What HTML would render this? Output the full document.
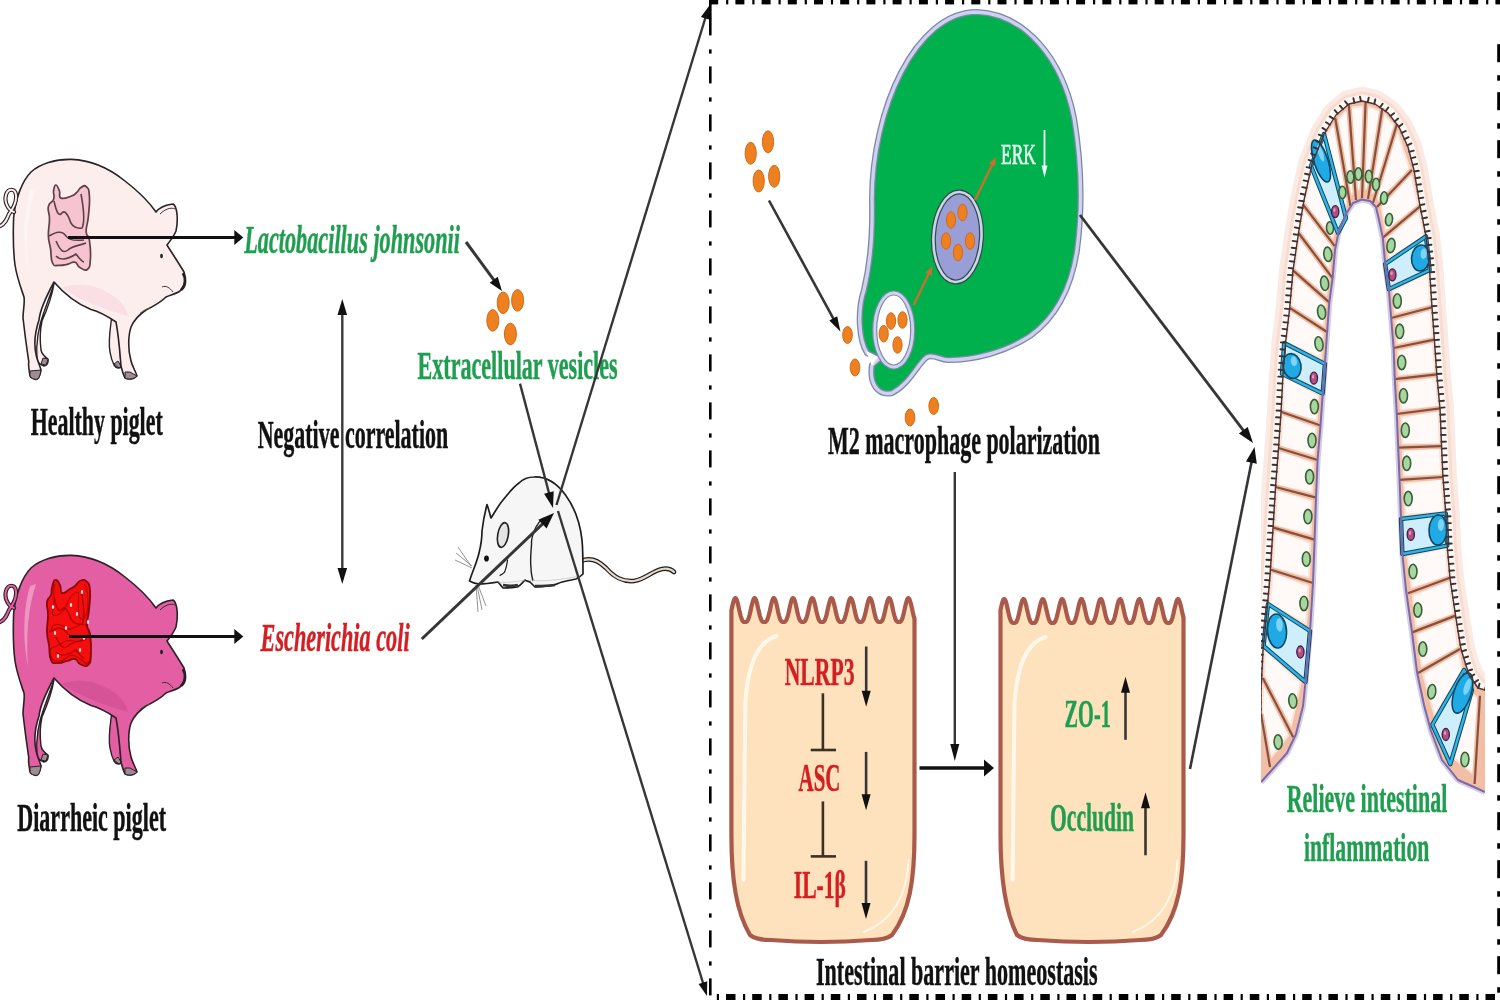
<!DOCTYPE html>
<html><head><meta charset="utf-8"><style>html,body{margin:0;padding:0;background:#fff;}svg{display:block;filter:blur(0.6px);}</style></head>
<body><svg width="1500" height="1000" viewBox="0 0 1500 1000">
<rect width="1500" height="1000" fill="#fff"/>
<rect x="709.2" y="0" width="9" height="4.4" fill="#000"/>
<rect x="726.1" y="0" width="2.2" height="4.4" fill="#000"/>
<rect x="735.4" y="0" width="9" height="4.4" fill="#000"/>
<rect x="752.3" y="0" width="2.2" height="4.4" fill="#000"/>
<rect x="761.6" y="0" width="9" height="4.4" fill="#000"/>
<rect x="778.5" y="0" width="2.2" height="4.4" fill="#000"/>
<rect x="787.8" y="0" width="9" height="4.4" fill="#000"/>
<rect x="804.7" y="0" width="2.2" height="4.4" fill="#000"/>
<rect x="814.0" y="0" width="9" height="4.4" fill="#000"/>
<rect x="830.9" y="0" width="2.2" height="4.4" fill="#000"/>
<rect x="840.2" y="0" width="9" height="4.4" fill="#000"/>
<rect x="857.1" y="0" width="2.2" height="4.4" fill="#000"/>
<rect x="866.4" y="0" width="9" height="4.4" fill="#000"/>
<rect x="883.3" y="0" width="2.2" height="4.4" fill="#000"/>
<rect x="892.6" y="0" width="9" height="4.4" fill="#000"/>
<rect x="909.5" y="0" width="2.2" height="4.4" fill="#000"/>
<rect x="918.9" y="0" width="9" height="4.4" fill="#000"/>
<rect x="935.8" y="0" width="2.2" height="4.4" fill="#000"/>
<rect x="945.1" y="0" width="9" height="4.4" fill="#000"/>
<rect x="962.0" y="0" width="2.2" height="4.4" fill="#000"/>
<rect x="971.3" y="0" width="9" height="4.4" fill="#000"/>
<rect x="988.2" y="0" width="2.2" height="4.4" fill="#000"/>
<rect x="997.5" y="0" width="9" height="4.4" fill="#000"/>
<rect x="1014.4" y="0" width="2.2" height="4.4" fill="#000"/>
<rect x="1023.7" y="0" width="9" height="4.4" fill="#000"/>
<rect x="1040.6" y="0" width="2.2" height="4.4" fill="#000"/>
<rect x="1049.9" y="0" width="9" height="4.4" fill="#000"/>
<rect x="1066.8" y="0" width="2.2" height="4.4" fill="#000"/>
<rect x="1076.1" y="0" width="9" height="4.4" fill="#000"/>
<rect x="1093.0" y="0" width="2.2" height="4.4" fill="#000"/>
<rect x="1102.3" y="0" width="9" height="4.4" fill="#000"/>
<rect x="1119.2" y="0" width="2.2" height="4.4" fill="#000"/>
<rect x="1128.5" y="0" width="9" height="4.4" fill="#000"/>
<rect x="1145.4" y="0" width="2.2" height="4.4" fill="#000"/>
<rect x="1154.7" y="0" width="9" height="4.4" fill="#000"/>
<rect x="1171.6" y="0" width="2.2" height="4.4" fill="#000"/>
<rect x="1180.9" y="0" width="9" height="4.4" fill="#000"/>
<rect x="1197.8" y="0" width="2.2" height="4.4" fill="#000"/>
<rect x="1207.1" y="0" width="9" height="4.4" fill="#000"/>
<rect x="1224.0" y="0" width="2.2" height="4.4" fill="#000"/>
<rect x="1233.3" y="0" width="9" height="4.4" fill="#000"/>
<rect x="1250.2" y="0" width="2.2" height="4.4" fill="#000"/>
<rect x="1259.5" y="0" width="9" height="4.4" fill="#000"/>
<rect x="1276.4" y="0" width="2.2" height="4.4" fill="#000"/>
<rect x="1285.8" y="0" width="9" height="4.4" fill="#000"/>
<rect x="1302.7" y="0" width="2.2" height="4.4" fill="#000"/>
<rect x="1312.0" y="0" width="9" height="4.4" fill="#000"/>
<rect x="1328.9" y="0" width="2.2" height="4.4" fill="#000"/>
<rect x="1338.2" y="0" width="9" height="4.4" fill="#000"/>
<rect x="1355.1" y="0" width="2.2" height="4.4" fill="#000"/>
<rect x="1364.4" y="0" width="9" height="4.4" fill="#000"/>
<rect x="1381.3" y="0" width="2.2" height="4.4" fill="#000"/>
<rect x="1390.6" y="0" width="9" height="4.4" fill="#000"/>
<rect x="1407.5" y="0" width="2.2" height="4.4" fill="#000"/>
<rect x="1416.8" y="0" width="9" height="4.4" fill="#000"/>
<rect x="1433.7" y="0" width="2.2" height="4.4" fill="#000"/>
<rect x="1443.0" y="0" width="9" height="4.4" fill="#000"/>
<rect x="1459.9" y="0" width="2.2" height="4.4" fill="#000"/>
<rect x="1469.2" y="0" width="9" height="4.4" fill="#000"/>
<rect x="1486.1" y="0" width="2.2" height="4.4" fill="#000"/>
<rect x="1495.4" y="0" width="9" height="4.4" fill="#000"/>
<rect x="1512.3" y="0" width="2.2" height="4.4" fill="#000"/>
<rect x="726.0" y="994" width="9.5" height="6" fill="#000"/>
<rect x="716.8" y="994" width="2.2" height="6" fill="#000"/>
<rect x="752.2" y="994" width="9.5" height="6" fill="#000"/>
<rect x="743.0" y="994" width="2.2" height="6" fill="#000"/>
<rect x="778.4" y="994" width="9.5" height="6" fill="#000"/>
<rect x="769.2" y="994" width="2.2" height="6" fill="#000"/>
<rect x="804.6" y="994" width="9.5" height="6" fill="#000"/>
<rect x="795.4" y="994" width="2.2" height="6" fill="#000"/>
<rect x="830.8" y="994" width="9.5" height="6" fill="#000"/>
<rect x="821.6" y="994" width="2.2" height="6" fill="#000"/>
<rect x="857.0" y="994" width="9.5" height="6" fill="#000"/>
<rect x="847.8" y="994" width="2.2" height="6" fill="#000"/>
<rect x="883.1" y="994" width="9.5" height="6" fill="#000"/>
<rect x="873.9" y="994" width="2.2" height="6" fill="#000"/>
<rect x="909.3" y="994" width="9.5" height="6" fill="#000"/>
<rect x="900.1" y="994" width="2.2" height="6" fill="#000"/>
<rect x="935.5" y="994" width="9.5" height="6" fill="#000"/>
<rect x="926.3" y="994" width="2.2" height="6" fill="#000"/>
<rect x="961.7" y="994" width="9.5" height="6" fill="#000"/>
<rect x="952.5" y="994" width="2.2" height="6" fill="#000"/>
<rect x="987.9" y="994" width="9.5" height="6" fill="#000"/>
<rect x="978.7" y="994" width="2.2" height="6" fill="#000"/>
<rect x="1014.1" y="994" width="9.5" height="6" fill="#000"/>
<rect x="1004.9" y="994" width="2.2" height="6" fill="#000"/>
<rect x="1040.3" y="994" width="9.5" height="6" fill="#000"/>
<rect x="1031.1" y="994" width="2.2" height="6" fill="#000"/>
<rect x="1066.5" y="994" width="9.5" height="6" fill="#000"/>
<rect x="1057.3" y="994" width="2.2" height="6" fill="#000"/>
<rect x="1092.7" y="994" width="9.5" height="6" fill="#000"/>
<rect x="1083.5" y="994" width="2.2" height="6" fill="#000"/>
<rect x="1118.8" y="994" width="9.5" height="6" fill="#000"/>
<rect x="1109.6" y="994" width="2.2" height="6" fill="#000"/>
<rect x="1145.0" y="994" width="9.5" height="6" fill="#000"/>
<rect x="1135.8" y="994" width="2.2" height="6" fill="#000"/>
<rect x="1171.2" y="994" width="9.5" height="6" fill="#000"/>
<rect x="1162.0" y="994" width="2.2" height="6" fill="#000"/>
<rect x="1197.4" y="994" width="9.5" height="6" fill="#000"/>
<rect x="1188.2" y="994" width="2.2" height="6" fill="#000"/>
<rect x="1223.6" y="994" width="9.5" height="6" fill="#000"/>
<rect x="1214.4" y="994" width="2.2" height="6" fill="#000"/>
<rect x="1249.8" y="994" width="9.5" height="6" fill="#000"/>
<rect x="1240.6" y="994" width="2.2" height="6" fill="#000"/>
<rect x="1276.0" y="994" width="9.5" height="6" fill="#000"/>
<rect x="1266.8" y="994" width="2.2" height="6" fill="#000"/>
<rect x="1302.2" y="994" width="9.5" height="6" fill="#000"/>
<rect x="1293.0" y="994" width="2.2" height="6" fill="#000"/>
<rect x="1328.4" y="994" width="9.5" height="6" fill="#000"/>
<rect x="1319.2" y="994" width="2.2" height="6" fill="#000"/>
<rect x="1354.6" y="994" width="9.5" height="6" fill="#000"/>
<rect x="1345.4" y="994" width="2.2" height="6" fill="#000"/>
<rect x="1380.8" y="994" width="9.5" height="6" fill="#000"/>
<rect x="1371.5" y="994" width="2.2" height="6" fill="#000"/>
<rect x="1406.9" y="994" width="9.5" height="6" fill="#000"/>
<rect x="1397.7" y="994" width="2.2" height="6" fill="#000"/>
<rect x="1433.1" y="994" width="9.5" height="6" fill="#000"/>
<rect x="1423.9" y="994" width="2.2" height="6" fill="#000"/>
<rect x="1459.3" y="994" width="9.5" height="6" fill="#000"/>
<rect x="1450.1" y="994" width="2.2" height="6" fill="#000"/>
<rect x="1485.5" y="994" width="9.5" height="6" fill="#000"/>
<rect x="1476.3" y="994" width="2.2" height="6" fill="#000"/>
<rect x="709" y="18.4" width="2.6" height="17" fill="#000"/>
<rect x="709" y="49.4" width="2.6" height="4.2" fill="#000"/>
<rect x="709" y="66.4" width="2.6" height="17" fill="#000"/>
<rect x="709" y="97.4" width="2.6" height="4.2" fill="#000"/>
<rect x="709" y="114.4" width="2.6" height="17" fill="#000"/>
<rect x="709" y="145.4" width="2.6" height="4.2" fill="#000"/>
<rect x="709" y="162.4" width="2.6" height="17" fill="#000"/>
<rect x="709" y="193.4" width="2.6" height="4.2" fill="#000"/>
<rect x="709" y="210.4" width="2.6" height="17" fill="#000"/>
<rect x="709" y="241.4" width="2.6" height="4.2" fill="#000"/>
<rect x="709" y="258.4" width="2.6" height="17" fill="#000"/>
<rect x="709" y="289.4" width="2.6" height="4.2" fill="#000"/>
<rect x="709" y="306.4" width="2.6" height="17" fill="#000"/>
<rect x="709" y="337.4" width="2.6" height="4.2" fill="#000"/>
<rect x="709" y="354.4" width="2.6" height="17" fill="#000"/>
<rect x="709" y="385.4" width="2.6" height="4.2" fill="#000"/>
<rect x="709" y="402.4" width="2.6" height="17" fill="#000"/>
<rect x="709" y="433.4" width="2.6" height="4.2" fill="#000"/>
<rect x="709" y="450.4" width="2.6" height="17" fill="#000"/>
<rect x="709" y="481.4" width="2.6" height="4.2" fill="#000"/>
<rect x="709" y="498.4" width="2.6" height="17" fill="#000"/>
<rect x="709" y="529.4" width="2.6" height="4.2" fill="#000"/>
<rect x="709" y="546.4" width="2.6" height="17" fill="#000"/>
<rect x="709" y="577.4" width="2.6" height="4.2" fill="#000"/>
<rect x="709" y="594.4" width="2.6" height="17" fill="#000"/>
<rect x="709" y="625.4" width="2.6" height="4.2" fill="#000"/>
<rect x="709" y="642.4" width="2.6" height="17" fill="#000"/>
<rect x="709" y="673.4" width="2.6" height="4.2" fill="#000"/>
<rect x="709" y="690.4" width="2.6" height="17" fill="#000"/>
<rect x="709" y="721.4" width="2.6" height="4.2" fill="#000"/>
<rect x="709" y="738.4" width="2.6" height="17" fill="#000"/>
<rect x="709" y="769.4" width="2.6" height="4.2" fill="#000"/>
<rect x="709" y="786.4" width="2.6" height="17" fill="#000"/>
<rect x="709" y="817.4" width="2.6" height="4.2" fill="#000"/>
<rect x="709" y="834.4" width="2.6" height="17" fill="#000"/>
<rect x="709" y="865.4" width="2.6" height="4.2" fill="#000"/>
<rect x="709" y="882.4" width="2.6" height="17" fill="#000"/>
<rect x="709" y="913.4" width="2.6" height="4.2" fill="#000"/>
<rect x="709" y="930.4" width="2.6" height="17" fill="#000"/>
<rect x="709" y="961.4" width="2.6" height="4.2" fill="#000"/>
<rect x="709" y="978.4" width="2.6" height="17" fill="#000"/>
<rect x="709" y="1009.4" width="2.6" height="4.2" fill="#000"/>
<rect x="1497.2" y="44.2" width="2.8" height="18" fill="#000"/>
<rect x="1497.2" y="75.2" width="2.8" height="5.5" fill="#000"/>
<rect x="1497.2" y="92.2" width="2.8" height="18" fill="#000"/>
<rect x="1497.2" y="123.2" width="2.8" height="5.5" fill="#000"/>
<rect x="1497.2" y="140.2" width="2.8" height="18" fill="#000"/>
<rect x="1497.2" y="171.2" width="2.8" height="5.5" fill="#000"/>
<rect x="1497.2" y="188.2" width="2.8" height="18" fill="#000"/>
<rect x="1497.2" y="219.2" width="2.8" height="5.5" fill="#000"/>
<rect x="1497.2" y="236.2" width="2.8" height="18" fill="#000"/>
<rect x="1497.2" y="267.2" width="2.8" height="5.5" fill="#000"/>
<rect x="1497.2" y="284.2" width="2.8" height="18" fill="#000"/>
<rect x="1497.2" y="315.2" width="2.8" height="5.5" fill="#000"/>
<rect x="1497.2" y="332.2" width="2.8" height="18" fill="#000"/>
<rect x="1497.2" y="363.2" width="2.8" height="5.5" fill="#000"/>
<rect x="1497.2" y="380.2" width="2.8" height="18" fill="#000"/>
<rect x="1497.2" y="411.2" width="2.8" height="5.5" fill="#000"/>
<rect x="1497.2" y="428.2" width="2.8" height="18" fill="#000"/>
<rect x="1497.2" y="459.2" width="2.8" height="5.5" fill="#000"/>
<rect x="1497.2" y="476.2" width="2.8" height="18" fill="#000"/>
<rect x="1497.2" y="507.2" width="2.8" height="5.5" fill="#000"/>
<rect x="1497.2" y="524.2" width="2.8" height="18" fill="#000"/>
<rect x="1497.2" y="555.2" width="2.8" height="5.5" fill="#000"/>
<rect x="1497.2" y="572.2" width="2.8" height="18" fill="#000"/>
<rect x="1497.2" y="603.2" width="2.8" height="5.5" fill="#000"/>
<rect x="1497.2" y="620.2" width="2.8" height="18" fill="#000"/>
<rect x="1497.2" y="651.2" width="2.8" height="5.5" fill="#000"/>
<rect x="1497.2" y="668.2" width="2.8" height="18" fill="#000"/>
<rect x="1497.2" y="699.2" width="2.8" height="5.5" fill="#000"/>
<rect x="1497.2" y="716.2" width="2.8" height="18" fill="#000"/>
<rect x="1497.2" y="747.2" width="2.8" height="5.5" fill="#000"/>
<rect x="1497.2" y="764.2" width="2.8" height="18" fill="#000"/>
<rect x="1497.2" y="795.2" width="2.8" height="5.5" fill="#000"/>
<rect x="1497.2" y="812.2" width="2.8" height="18" fill="#000"/>
<rect x="1497.2" y="843.2" width="2.8" height="5.5" fill="#000"/>
<rect x="1497.2" y="860.2" width="2.8" height="18" fill="#000"/>
<rect x="1497.2" y="891.2" width="2.8" height="5.5" fill="#000"/>
<rect x="1497.2" y="908.2" width="2.8" height="18" fill="#000"/>
<rect x="1497.2" y="939.2" width="2.8" height="5.5" fill="#000"/>
<rect x="1497.2" y="956.2" width="2.8" height="18" fill="#000"/>
<rect x="1497.2" y="987.2" width="2.8" height="5.5" fill="#000"/>
<rect x="709" y="0" width="2.6" height="19" fill="#000"/>
<path d="M731.4,610.5 L732.3,606.3 L733.2,602.5 L734.1,599.6 L735.1,598.1 L736.0,598.3 L736.9,600.2 L737.8,603.4 L738.7,607.4 L739.6,611.6 L740.6,615.5 L741.5,618.5 L742.4,620.6 L743.3,621.6 L744.2,622.0 L745.1,622.0 L746.0,621.9 L747.0,621.4 L747.9,620.1 L748.8,617.8 L749.7,614.5 L750.6,610.5 L751.5,606.3 L752.5,602.4 L753.4,599.6 L754.3,598.1 L755.2,598.3 L756.1,600.2 L757.0,603.4 L757.9,607.4 L758.9,611.6 L759.8,615.5 L760.7,618.5 L761.6,620.6 L762.5,621.6 L763.4,622.0 L764.4,622.0 L765.3,621.9 L766.2,621.4 L767.1,620.1 L768.0,617.8 L768.9,614.5 L769.9,610.5 L770.8,606.3 L771.7,602.4 L772.6,599.6 L773.5,598.1 L774.4,598.3 L775.3,600.2 L776.3,603.4 L777.2,607.4 L778.1,611.7 L779.0,615.5 L779.9,618.5 L780.8,620.6 L781.8,621.6 L782.7,622.0 L783.6,622.0 L784.5,621.9 L785.4,621.4 L786.3,620.1 L787.2,617.8 L788.2,614.5 L789.1,610.5 L790.0,606.3 L790.9,602.4 L791.8,599.5 L792.7,598.1 L793.7,598.4 L794.6,600.2 L795.5,603.4 L796.4,607.5 L797.3,611.7 L798.2,615.5 L799.1,618.5 L800.1,620.6 L801.0,621.6 L801.9,622.0 L802.8,622.0 L803.7,621.9 L804.6,621.4 L805.6,620.1 L806.5,617.8 L807.4,614.5 L808.3,610.5 L809.2,606.3 L810.1,602.4 L811.0,599.5 L812.0,598.1 L812.9,598.4 L813.8,600.2 L814.7,603.4 L815.6,607.5 L816.5,611.7 L817.5,615.5 L818.4,618.6 L819.3,620.6 L820.2,621.6 L821.1,622.0 L822.0,622.0 L823.0,621.9 L823.9,621.4 L824.8,620.1 L825.7,617.8 L826.6,614.5 L827.5,610.5 L828.4,606.2 L829.4,602.4 L830.3,599.5 L831.2,598.1 L832.1,598.4 L833.0,600.2 L833.9,603.5 L834.9,607.5 L835.8,611.7 L836.7,615.5 L837.6,618.6 L838.5,620.6 L839.4,621.6 L840.3,622.0 L841.3,622.0 L842.2,621.9 L843.1,621.4 L844.0,620.1 L844.9,617.8 L845.8,614.5 L846.8,610.4 L847.7,606.2 L848.6,602.4 L849.5,599.5 L850.4,598.1 L851.3,598.4 L852.2,600.3 L853.2,603.5 L854.1,607.5 L855.0,611.7 L855.9,615.6 L856.8,618.6 L857.7,620.6 L858.7,621.6 L859.6,622.0 L860.5,622.0 L861.4,621.9 L862.3,621.4 L863.2,620.1 L864.1,617.7 L865.1,614.4 L866.0,610.4 L866.9,606.2 L867.8,602.4 L868.7,599.5 L869.6,598.1 L870.6,598.4 L871.5,600.3 L872.4,603.5 L873.3,607.5 L874.2,611.7 L875.1,615.6 L876.0,618.6 L877.0,620.6 L877.9,621.6 L878.8,622.0 L879.7,622.0 L880.6,621.9 L881.5,621.4 L882.5,620.1 L883.4,617.7 L884.3,614.4 L885.2,610.4 L886.1,606.2 L887.0,602.4 L888.0,599.5 L888.9,598.1 L889.8,598.4 L890.7,600.3 L891.6,603.5 L892.5,607.5 L893.4,611.7 L894.4,615.6 L895.3,618.6 L896.2,620.6 L897.1,621.6 L898.0,622.0 L898.9,622.0 L899.9,621.9 L900.8,621.4 L901.7,620.1 L902.6,617.7 L903.5,614.4 L904.4,610.4 L905.3,606.2 L906.3,602.3 L907.2,599.5 L908.1,598.1 L909.0,598.4 L909.9,600.3 L910.8,603.5 L911.8,607.5 L912.7,611.8 L913.6,615.6 L914.5,618.6 L914.5,835.0 C914.5,880.0 909.5,912.0 892.0,935.0 C887.0,939.0 881.0,940.0 871.0,940.0 Q821.0,944.0 771.0,940.0 C761.0,940.0 755.0,939.0 750.0,935.0 C736.4,912.0 731.4,880.0 731.4,835.0 Z" fill="#fee2bd" stroke="#a95a4b" stroke-width="4.2" stroke-linejoin="round"/>
<path d="M776.4,636.0 Q749.4,644.0 745.4,702.0 L743.4,880.0" fill="none" stroke="#fffaf0" stroke-width="4" stroke-linecap="round" opacity="0.9"/>
<path d="M908.5,860.0 Q906.5,915.0 864.0,932.0" fill="none" stroke="#fffaf0" stroke-width="2" stroke-linecap="round" opacity="0.8"/>
<path d="M1000.5,610.1 L1001.4,605.9 L1002.3,602.4 L1003.2,599.9 L1004.2,599.0 L1005.1,599.8 L1006.0,602.1 L1006.9,605.6 L1007.8,609.7 L1008.7,613.8 L1009.6,617.5 L1010.6,620.2 L1011.5,621.9 L1012.4,622.8 L1013.3,623.0 L1014.2,623.0 L1015.1,622.8 L1016.1,622.2 L1017.0,620.6 L1017.9,618.1 L1018.8,614.6 L1019.7,610.5 L1020.6,606.3 L1021.5,602.7 L1022.5,600.1 L1023.4,599.0 L1024.3,599.6 L1025.2,601.8 L1026.1,605.2 L1027.0,609.3 L1028.0,613.4 L1028.9,617.1 L1029.8,620.0 L1030.7,621.8 L1031.6,622.7 L1032.5,623.0 L1033.4,623.0 L1034.4,622.9 L1035.3,622.3 L1036.2,620.8 L1037.1,618.4 L1038.0,615.0 L1038.9,611.0 L1039.8,606.8 L1040.8,603.0 L1041.7,600.3 L1042.6,599.1 L1043.5,599.5 L1044.4,601.5 L1045.3,604.8 L1046.2,608.8 L1047.2,613.0 L1048.1,616.8 L1049.0,619.7 L1049.9,621.7 L1050.8,622.7 L1051.7,623.0 L1052.7,623.0 L1053.6,622.9 L1054.5,622.4 L1055.4,621.0 L1056.3,618.7 L1057.2,615.4 L1058.1,611.4 L1059.1,607.2 L1060.0,603.4 L1060.9,600.5 L1061.8,599.1 L1062.7,599.3 L1063.6,601.2 L1064.5,604.4 L1065.5,608.4 L1066.4,612.6 L1067.3,616.4 L1068.2,619.5 L1069.1,621.5 L1070.0,622.6 L1071.0,623.0 L1071.9,623.0 L1072.8,622.9 L1073.7,622.5 L1074.6,621.2 L1075.5,619.0 L1076.4,615.8 L1077.4,611.8 L1078.3,607.6 L1079.2,603.7 L1080.1,600.8 L1081.0,599.2 L1081.9,599.2 L1082.8,600.9 L1083.8,604.0 L1084.7,607.9 L1085.6,612.1 L1086.5,616.0 L1087.4,619.2 L1088.3,621.3 L1089.3,622.5 L1090.2,622.9 L1091.1,623.0 L1092.0,622.9 L1092.9,622.5 L1093.8,621.4 L1094.7,619.3 L1095.7,616.2 L1096.6,612.3 L1097.5,608.1 L1098.4,604.1 L1099.3,601.0 L1100.2,599.3 L1101.2,599.2 L1102.1,600.7 L1103.0,603.6 L1103.9,607.5 L1104.8,611.7 L1105.7,615.7 L1106.6,618.9 L1107.6,621.2 L1108.5,622.4 L1109.4,622.9 L1110.3,623.0 L1111.2,623.0 L1112.1,622.6 L1113.0,621.6 L1114.0,619.5 L1114.9,616.5 L1115.8,612.7 L1116.7,608.5 L1117.6,604.5 L1118.5,601.3 L1119.5,599.4 L1120.4,599.1 L1121.3,600.5 L1122.2,603.3 L1123.1,607.1 L1124.0,611.3 L1124.9,615.3 L1125.9,618.6 L1126.8,621.0 L1127.7,622.3 L1128.6,622.9 L1129.5,623.0 L1130.4,623.0 L1131.3,622.7 L1132.3,621.7 L1133.2,619.8 L1134.1,616.9 L1135.0,613.1 L1135.9,609.0 L1136.8,604.9 L1137.8,601.6 L1138.7,599.5 L1139.6,599.0 L1140.5,600.2 L1141.4,602.9 L1142.3,606.6 L1143.2,610.8 L1144.2,614.9 L1145.1,618.3 L1146.0,620.8 L1146.9,622.2 L1147.8,622.9 L1148.7,623.0 L1149.6,623.0 L1150.6,622.7 L1151.5,621.9 L1152.4,620.1 L1153.3,617.2 L1154.2,613.6 L1155.1,609.4 L1156.0,605.3 L1157.0,601.9 L1157.9,599.7 L1158.8,599.0 L1159.7,600.0 L1160.6,602.6 L1161.5,606.2 L1162.5,610.4 L1163.4,614.5 L1164.3,618.0 L1165.2,620.6 L1166.1,622.1 L1167.0,622.8 L1167.9,623.0 L1168.9,623.0 L1169.8,622.8 L1170.7,622.0 L1171.6,620.3 L1172.5,617.6 L1173.4,614.0 L1174.3,609.8 L1175.3,605.7 L1176.2,602.2 L1177.1,599.8 L1178.0,599.0 L1178.9,599.9 L1179.8,602.3 L1180.8,605.8 L1181.7,609.9 L1182.6,614.1 L1183.5,617.6 L1183.5,835.0 C1183.5,880.0 1178.5,912.0 1161.0,935.0 C1156.0,939.0 1150.0,940.0 1140.0,940.0 Q1089.0,944.0 1038.0,940.0 C1028.0,940.0 1022.0,939.0 1017.0,935.0 C1005.5,912.0 1000.5,880.0 1000.5,835.0 Z" fill="#fee2bd" stroke="#a95a4b" stroke-width="4.2" stroke-linejoin="round"/>
<path d="M1045.5,637.0 Q1018.5,645.0 1014.5,703.0 L1012.5,880.0" fill="none" stroke="#fffaf0" stroke-width="4" stroke-linecap="round" opacity="0.9"/>
<path d="M1177.5,860.0 Q1175.5,915.0 1133.0,932.0" fill="none" stroke="#fffaf0" stroke-width="2" stroke-linecap="round" opacity="0.8"/>
<text x="784.7" y="685" textLength="69.79999999999995" lengthAdjust="spacingAndGlyphs" font-family="Liberation Serif" font-weight="bold"  font-size="41" fill="#d41f22" stroke="#d41f22" stroke-width="0.5">NLRP3</text>
<text x="798.6" y="790.5" textLength="41.799999999999955" lengthAdjust="spacingAndGlyphs" font-family="Liberation Serif" font-weight="bold"  font-size="41" fill="#d41f22" stroke="#d41f22" stroke-width="0.5">ASC</text>
<text x="793.8" y="898.2" textLength="52.10000000000002" lengthAdjust="spacingAndGlyphs" font-family="Liberation Serif" font-weight="bold"  font-size="41" fill="#d41f22" stroke="#d41f22" stroke-width="0.5">IL-1β</text>
<text x="1064.6" y="727.2" textLength="46.200000000000045" lengthAdjust="spacingAndGlyphs" font-family="Liberation Serif" font-weight="bold"  font-size="41" fill="#1f9e50" stroke="#1f9e50" stroke-width="0.5">ZO-1</text>
<text x="1050" y="831.1" textLength="84" lengthAdjust="spacingAndGlyphs" font-family="Liberation Serif" font-weight="bold"  font-size="41" fill="#1f9e50" stroke="#1f9e50" stroke-width="0.5">Occludin</text>
<line x1="866.2" y1="646.5" x2="866.2" y2="692.7" stroke="#363636" stroke-width="2.6"/>
<polygon points="866.2,706.7 861.7,690.7 870.7,690.7" fill="#111"/>
<line x1="866.1" y1="751.9" x2="866.1" y2="796.2" stroke="#363636" stroke-width="2.6"/>
<polygon points="866.1,810.2 861.6,794.2 870.6,794.2" fill="#111"/>
<line x1="866.0" y1="860.8" x2="866.0" y2="905.1" stroke="#363636" stroke-width="2.6"/>
<polygon points="866.0,919.1 861.5,903.1 870.5,903.1" fill="#111"/>
<line x1="1125.5" y1="739.8" x2="1125.5" y2="690.8" stroke="#363636" stroke-width="2.6"/>
<polygon points="1125.5,676.8 1130.0,692.8 1121.0,692.8" fill="#111"/>
<line x1="1145.5" y1="855.3" x2="1145.5" y2="806.3" stroke="#363636" stroke-width="2.6"/>
<polygon points="1145.5,792.3 1150.0,808.3 1141.0,808.3" fill="#111"/>
<g stroke="#3a3024" stroke-width="2.6"><line x1="822.9" y1="693.3" x2="822.9" y2="750"/><line x1="810.7" y1="750" x2="836" y2="750"/><line x1="822.9" y1="801.4" x2="822.9" y2="856.4"/><line x1="810.7" y1="856.4" x2="836" y2="856.4"/></g>
<line x1="919.5" y1="768.0" x2="986.0" y2="768.0" stroke="#111" stroke-width="3.6"/>
<polygon points="994.0,768.0 984.0,776.5 984.0,759.5" fill="#111"/>
<line x1="954.8" y1="472.0" x2="954.8" y2="746.0" stroke="#363636" stroke-width="2.4"/>
<polygon points="954.8,761.0 950.3,744.0 959.3,744.0" fill="#111"/>
<text x="30.7" y="435.3" textLength="132.0" lengthAdjust="spacingAndGlyphs" font-family="Liberation Serif" font-weight="bold"  font-size="41" fill="#111" stroke="#111" stroke-width="0.5">Healthy piglet</text>
<text x="17.3" y="831.3" textLength="148.7" lengthAdjust="spacingAndGlyphs" font-family="Liberation Serif" font-weight="bold"  font-size="41" fill="#111" stroke="#111" stroke-width="0.5">Diarrheic piglet</text>
<text x="244.2" y="252.5" textLength="215.8" lengthAdjust="spacingAndGlyphs" font-family="Liberation Serif" font-weight="bold" font-style="italic" font-size="41" fill="#1f9e50" stroke="#1f9e50" stroke-width="0.5">Lactobacillus johnsonii</text>
<text x="417.6" y="378.8" textLength="200.0" lengthAdjust="spacingAndGlyphs" font-family="Liberation Serif" font-weight="bold"  font-size="41" fill="#1f9e50" stroke="#1f9e50" stroke-width="0.5">Extracellular vesicles</text>
<text x="257.7" y="448.3" textLength="190.5" lengthAdjust="spacingAndGlyphs" font-family="Liberation Serif" font-weight="bold"  font-size="41" fill="#111" stroke="#111" stroke-width="0.5">Negative correlation</text>
<text x="260.6" y="651" textLength="149.0" lengthAdjust="spacingAndGlyphs" font-family="Liberation Serif" font-weight="bold" font-style="italic" font-size="41" fill="#d41f22" stroke="#d41f22" stroke-width="0.5">Escherichia coli</text>
<text x="828" y="454" textLength="272" lengthAdjust="spacingAndGlyphs" font-family="Liberation Serif" font-weight="bold"  font-size="41" fill="#111" stroke="#111" stroke-width="0.5">M2 macrophage polarization</text>
<text x="816" y="984.8" textLength="281.5999999999999" lengthAdjust="spacingAndGlyphs" font-family="Liberation Serif" font-weight="bold"  font-size="41" fill="#111" stroke="#111" stroke-width="0.5">Intestinal barrier homeostasis</text>
<text x="1286.7" y="812" textLength="160.5999999999999" lengthAdjust="spacingAndGlyphs" font-family="Liberation Serif" font-weight="bold"  font-size="41" fill="#1f9e50" stroke="#1f9e50" stroke-width="0.5">Relieve intestinal</text>
<text x="1304" y="860.7" textLength="125.29999999999995" lengthAdjust="spacingAndGlyphs" font-family="Liberation Serif" font-weight="bold"  font-size="41" fill="#1f9e50" stroke="#1f9e50" stroke-width="0.5">inflammation</text>
<path d="M977,12 C1025,14 1062,58 1074,118 C1081,160 1083,205 1077,250 C1071,290 1055,318 1030,336 C1005,352 975,360 948,360 C940,360 934,354 927,357 C918,363 910,384 892,393 C878,396 869,384 872,365 L879,359 L867,353 C859,340 857,312 864,290 C870,265 873,240 872,200 C872,110 915,12 977,12 Z" fill="#00b04d" stroke="#8086a8" stroke-width="6" stroke-linejoin="round"/>
<path d="M977,12 C1025,14 1062,58 1074,118 C1081,160 1083,205 1077,250 C1071,290 1055,318 1030,336 C1005,352 975,360 948,360 C940,360 934,354 927,357 C918,363 910,384 892,393 C878,396 869,384 872,365 L879,359 L867,353 C859,340 857,312 864,290 C870,265 873,240 872,200 C872,110 915,12 977,12 Z" fill="none" stroke="#cdd2ee" stroke-width="3.4" stroke-linejoin="round"/>
<ellipse cx="893.7" cy="330" rx="19" ry="37" fill="#fff" stroke="#8086a8" stroke-width="5.2"/>
<ellipse cx="893.7" cy="330" rx="19" ry="37" fill="none" stroke="#cdd2ee" stroke-width="2.8"/>
<path d="M866,351 L878,357 L872,366 Z" fill="#fff"/>
<ellipse cx="891.0" cy="321.0" rx="4.6" ry="8.3" fill="#ef8020" stroke="#d06a18" stroke-width="1.0"/>
<ellipse cx="902.5" cy="320.0" rx="4.6" ry="8.3" fill="#ef8020" stroke="#d06a18" stroke-width="1.0"/>
<ellipse cx="883.7" cy="333.7" rx="4.6" ry="8.3" fill="#ef8020" stroke="#d06a18" stroke-width="1.0"/>
<ellipse cx="897.5" cy="345.0" rx="4.6" ry="8.3" fill="#ef8020" stroke="#d06a18" stroke-width="1.0"/>
<ellipse cx="957.5" cy="237" rx="24" ry="45" fill="#9a9ed6" stroke="#2e4f44" stroke-width="5" transform="rotate(3 957.5 236.2)"/>
<ellipse cx="957.5" cy="237" rx="24" ry="45" fill="none" stroke="#cdd2ee" stroke-width="2.6" transform="rotate(3 957.5 236.2)"/>
<ellipse cx="951.0" cy="220.0" rx="4.6" ry="8.3" fill="#ef8020" stroke="#d06a18" stroke-width="1.0"/>
<ellipse cx="962.5" cy="212.5" rx="4.6" ry="8.3" fill="#ef8020" stroke="#d06a18" stroke-width="1.0"/>
<ellipse cx="946.0" cy="241.0" rx="4.6" ry="8.3" fill="#ef8020" stroke="#d06a18" stroke-width="1.0"/>
<ellipse cx="970.0" cy="241.0" rx="4.6" ry="8.3" fill="#ef8020" stroke="#d06a18" stroke-width="1.0"/>
<ellipse cx="958.0" cy="252.5" rx="4.6" ry="8.3" fill="#ef8020" stroke="#d06a18" stroke-width="1.0"/>
<line x1="913.7" y1="305.0" x2="929.5" y2="272.3" stroke="#c8702e" stroke-width="2.4"/>
<polygon points="932.5,266.0 931.7,275.6 925.4,272.6" fill="#c8702e"/>
<line x1="975.0" y1="200.0" x2="992.9" y2="163.3" stroke="#c8702e" stroke-width="2.4"/>
<polygon points="996.0,157.0 995.2,166.6 988.9,163.6" fill="#c8702e"/>
<text x="1001" y="163.7" textLength="35" lengthAdjust="spacingAndGlyphs" font-family="Liberation Serif" font-size="29" fill="#eafff2" stroke="#eafff2" stroke-width="0.6">ERK</text>
<line x1="1044.5" y1="130.0" x2="1044.5" y2="167.5" stroke="#eafff2" stroke-width="1.7999999999999998"/>
<polygon points="1044.5,177.5 1041.5,165.5 1047.5,165.5" fill="#eafff2"/>
<ellipse cx="750.7" cy="153.3" rx="5.6" ry="11" fill="#ef8020" stroke="#d06a18" stroke-width="1.0"/>
<ellipse cx="768.0" cy="141.8" rx="5.6" ry="11" fill="#ef8020" stroke="#d06a18" stroke-width="1.0"/>
<ellipse cx="758.7" cy="181.0" rx="5.6" ry="11" fill="#ef8020" stroke="#d06a18" stroke-width="1.0"/>
<ellipse cx="774.2" cy="176.3" rx="5.6" ry="11" fill="#ef8020" stroke="#d06a18" stroke-width="1.0"/>
<ellipse cx="847.5" cy="335.0" rx="4.8" ry="8.5" fill="#ef8020" stroke="#d06a18" stroke-width="1.0"/>
<ellipse cx="855.0" cy="367.5" rx="4.8" ry="8.5" fill="#ef8020" stroke="#d06a18" stroke-width="1.0"/>
<ellipse cx="933.7" cy="406.0" rx="4.8" ry="8.5" fill="#ef8020" stroke="#d06a18" stroke-width="1.0"/>
<ellipse cx="910.0" cy="417.5" rx="4.8" ry="8.5" fill="#ef8020" stroke="#d06a18" stroke-width="1.0"/>
<line x1="769.0" y1="200.5" x2="834.2" y2="320.2" stroke="#363636" stroke-width="2.6"/>
<polygon points="840.4,331.6 829.3,320.6 837.2,316.3" fill="#111"/>
<ellipse cx="503.2" cy="302.8" rx="6" ry="10.8" fill="#ef8020" stroke="#d06a18" stroke-width="1.0"/>
<ellipse cx="517.6" cy="300.4" rx="6" ry="10.8" fill="#ef8020" stroke="#d06a18" stroke-width="1.0"/>
<ellipse cx="492.8" cy="320.4" rx="6" ry="10.8" fill="#ef8020" stroke="#d06a18" stroke-width="1.0"/>
<ellipse cx="510.4" cy="334.0" rx="6" ry="10.8" fill="#ef8020" stroke="#d06a18" stroke-width="1.0"/>
<g transform="translate(0,0)">
<path d="M54,284 C52,296 46,312 42,321 C40,330 40,342 41,350 C42,355 45,357 48,359 C49,362 47,366 44,366 C41,365 38,363 37,360 C36,346 37,330 44,312 Z" fill="#fdeeee" stroke="#2a2226" stroke-width="1.4" stroke-linejoin="round"/>
<path d="M111.6,318 C110,330 108,342 110,352 C111,358 113,363 114,365 C116,368 119,369 121,367 C121,360 120,350 119,338 C118,330 117,324 116,318 Z" fill="#fdeeee" stroke="#2a2226" stroke-width="1.4" stroke-linejoin="round"/>
<path d="M114,364 L119,368 L121,366 L118,361 Z" fill="#9c8c94" stroke="#2a2226" stroke-width="1"/>
<path d="M43,358 L48,359 L46,365 L41,364 Z" fill="#9c8c94" stroke="#2a2226" stroke-width="1"/>
<path d="M13.6,218 C15,200 22,181 31,172 C40,164 55,159 71.4,159.4 C92,160 110,169 125,181 C138,191 149,202 156,212 C159,208 165,205 173,204 C178,207 178,222 176,231 C174,236 171,240 167,245 C172,253 178,262 184,272 C186,279 185,286 180,291 C176,294 170,295 166,297 C160,303 152,307 146,310 C140,314 134,320 131,327 C128,336 128,350 130.8,360 C132,366 136,372 137,376 C134,379 129,380 125,378 C123,374 122,370 121,366 C120,354 119,338 116,322 C110,318 100,312 91,309.6 C80,305 66,296 54,282 C47,295 40,310 39,320 C35,332 34,345 36,354 C37,360 40,366 41,370 C40,376 39,379 36,379.5 C33,379 31,378 30,376 C29,370 28,365 28.8,362 C27,350 25,336 23,318 C23,310 25,303 24,297 C21,288 17,278 15,265 C13,250 13,235 13.6,218 Z" fill="#fdeeee" stroke="#2a2226" stroke-width="1.6" stroke-linejoin="round"/>
<path d="M62,288 C80,300 100,308 128,316 C124,300 110,292 92,286 C80,284 70,284 62,288 Z" fill="#f8d8e0" opacity="0.7"/>
<path d="M30,190 C24,210 22,240 28,270 C26,240 28,212 36,188 Z" fill="#fff" opacity="0.35"/>
<path d="M130,372 L137,376 C134,379 129,380 125,378 L125,372 Z" fill="#9c8c94" stroke="#2a2226" stroke-width="1"/>
<path d="M30,371 L41,370 C40,376 39,379 36,379.5 C33,379 31,378 30,376 Z" fill="#9c8c94" stroke="#2a2226" stroke-width="1"/>
<path d="M160,214 C165,209 171,207 175,209" fill="none" stroke="#2a2226" stroke-width="0.9"/>
<ellipse cx="161.5" cy="256" rx="1.4" ry="2.2" fill="#222"/>
<path d="M183,273 C186,278 186,286 181,290" fill="none" stroke="#222" stroke-width="2.8"/>
<path d="M162,287 C166,285 170,288 173,292" fill="none" stroke="#333" stroke-width="1"/>
<path d="M140,313 C143,311 146,309 150,308" fill="none" stroke="#555" stroke-width="0.8"/>
<path d="M14,212 C8,210 4,202 6,195 C8,188 15,188 16,195 C17,203 12,210 9,214 C7,219 5,224 0,226" fill="none" stroke="#2a2226" stroke-width="4.2" stroke-linecap="round"/>
<path d="M14,212 C8,210 4,202 6,195 C8,188 15,188 16,195 C17,203 12,210 9,214 C7,219 5,224 0,226" fill="none" stroke="#fdeeee" stroke-width="2" stroke-linecap="round"/>
<path d="M53.6,190.8 C54.2,187.0 54.3,185.0 55.8,185.0 C57.3,185.0 58.0,187.3 59.4,190.8 C60.8,194.3 57.8,196.7 61.0,198.1 C64.2,199.5 67.3,197.5 71.5,196.0 C75.7,194.5 74.3,194.5 76.8,192.3 C79.3,190.1 78.5,189.1 81.0,187.6 C83.5,186.1 84.0,184.4 86.2,186.6 C88.4,188.8 88.8,187.9 89.4,196.0 C90.0,204.1 89.2,207.5 88.3,217.0 C87.4,226.5 85.9,225.5 86.2,231.7 C86.5,237.9 88.3,232.8 89.4,240.1 C90.5,247.4 91.0,251.2 90.4,259.0 C89.8,266.8 90.1,267.3 87.3,269.5 C84.5,271.7 83.3,269.3 79.9,267.4 C76.5,265.5 78.1,263.0 74.7,262.2 C71.3,261.4 71.5,263.5 67.3,264.3 C63.1,265.1 62.8,265.6 58.9,265.3 C55.0,265.0 54.8,267.7 52.6,263.2 C50.4,258.7 51.6,255.8 50.5,248.5 C49.4,241.2 48.7,243.7 48.4,235.9 C48.1,228.1 49.5,226.9 49.5,219.1 C49.5,211.3 47.3,211.8 48.4,206.5 C49.5,201.2 52.2,203.4 53.6,199.2 C55.0,195.0 53.0,194.6 53.6,190.8 Z" fill="#f6c4d0" stroke="#5e4048" stroke-width="1.7"/>
<path d="M54,201 C56,210 58,216 61,214 C64,210 66,212 69,218 C71,226 76,229 82,228 C85,222 84,210 81,194 M49,236 C56,232 62,230 66,236 C68,240 74,241 84,240 M56,241 C60,250 63,254 68,250 C72,246 78,246 86,243 M56,256 C62,262 70,258 76,254 C79,258 82,262 84,262" fill="none" stroke="#5e4048" stroke-width="1.6"/>
</g>
<g transform="translate(0,396)">
<path d="M54,284 C52,296 46,312 42,321 C40,330 40,342 41,350 C42,355 45,357 48,359 C49,362 47,366 44,366 C41,365 38,363 37,360 C36,346 37,330 44,312 Z" fill="#e35ea3" stroke="#2a2226" stroke-width="1.4" stroke-linejoin="round"/>
<path d="M111.6,318 C110,330 108,342 110,352 C111,358 113,363 114,365 C116,368 119,369 121,367 C121,360 120,350 119,338 C118,330 117,324 116,318 Z" fill="#e35ea3" stroke="#2a2226" stroke-width="1.4" stroke-linejoin="round"/>
<path d="M114,364 L119,368 L121,366 L118,361 Z" fill="#9c8c94" stroke="#2a2226" stroke-width="1"/>
<path d="M43,358 L48,359 L46,365 L41,364 Z" fill="#9c8c94" stroke="#2a2226" stroke-width="1"/>
<path d="M13.6,218 C15,200 22,181 31,172 C40,164 55,159 71.4,159.4 C92,160 110,169 125,181 C138,191 149,202 156,212 C159,208 165,205 173,204 C178,207 178,222 176,231 C174,236 171,240 167,245 C172,253 178,262 184,272 C186,279 185,286 180,291 C176,294 170,295 166,297 C160,303 152,307 146,310 C140,314 134,320 131,327 C128,336 128,350 130.8,360 C132,366 136,372 137,376 C134,379 129,380 125,378 C123,374 122,370 121,366 C120,354 119,338 116,322 C110,318 100,312 91,309.6 C80,305 66,296 54,282 C47,295 40,310 39,320 C35,332 34,345 36,354 C37,360 40,366 41,370 C40,376 39,379 36,379.5 C33,379 31,378 30,376 C29,370 28,365 28.8,362 C27,350 25,336 23,318 C23,310 25,303 24,297 C21,288 17,278 15,265 C13,250 13,235 13.6,218 Z" fill="#e35ea3" stroke="#2a2226" stroke-width="1.6" stroke-linejoin="round"/>
<path d="M62,288 C80,300 100,308 128,316 C124,300 110,292 92,286 C80,284 70,284 62,288 Z" fill="#d24f92" opacity="0.7"/>
<path d="M30,190 C24,210 22,240 28,270 C26,240 28,212 36,188 Z" fill="#fff" opacity="0.35"/>
<path d="M130,372 L137,376 C134,379 129,380 125,378 L125,372 Z" fill="#9c8c94" stroke="#2a2226" stroke-width="1"/>
<path d="M30,371 L41,370 C40,376 39,379 36,379.5 C33,379 31,378 30,376 Z" fill="#9c8c94" stroke="#2a2226" stroke-width="1"/>
<path d="M160,214 C165,209 171,207 175,209" fill="none" stroke="#2a2226" stroke-width="0.9"/>
<ellipse cx="161.5" cy="256" rx="1.4" ry="2.2" fill="#222"/>
<path d="M183,273 C186,278 186,286 181,290" fill="none" stroke="#222" stroke-width="2.8"/>
<path d="M162,287 C166,285 170,288 173,292" fill="none" stroke="#333" stroke-width="1"/>
<path d="M140,313 C143,311 146,309 150,308" fill="none" stroke="#555" stroke-width="0.8"/>
<path d="M14,212 C8,210 4,202 6,195 C8,188 15,188 16,195 C17,203 12,210 9,214 C7,219 5,224 0,226" fill="none" stroke="#2a2226" stroke-width="4.2" stroke-linecap="round"/>
<path d="M14,212 C8,210 4,202 6,195 C8,188 15,188 16,195 C17,203 12,210 9,214 C7,219 5,224 0,226" fill="none" stroke="#e35ea3" stroke-width="2" stroke-linecap="round"/>
<path d="M52.0,192.0 C53.1,188.0 52.9,184.8 55.0,184.0 C57.1,183.2 58.1,185.5 60.0,189.0 C61.9,192.5 59.3,195.9 62.0,197.0 C64.7,198.1 66.5,194.9 70.0,193.0 C73.5,191.1 72.3,192.1 75.0,190.0 C77.7,187.9 77.1,186.3 80.0,185.0 C82.9,183.7 83.3,182.6 86.0,185.0 C88.7,187.4 89.2,186.3 90.0,194.0 C90.8,201.7 89.8,204.7 89.0,214.0 C88.2,223.3 86.7,222.6 87.0,229.0 C87.3,235.4 88.9,230.3 90.0,238.0 C91.1,245.7 91.5,249.7 91.0,258.0 C90.5,266.3 90.9,266.3 88.0,269.0 C85.1,271.7 83.5,269.6 80.0,268.0 C76.5,266.4 78.5,263.8 75.0,263.0 C71.5,262.2 71.5,263.9 67.0,265.0 C62.5,266.1 62.3,267.3 58.0,267.0 C53.7,266.7 53.4,268.8 51.0,264.0 C48.6,259.2 50.1,256.5 49.0,249.0 C47.9,241.5 47.3,244.0 47.0,236.0 C46.7,228.0 48.0,227.0 48.0,219.0 C48.0,211.0 46.2,211.3 47.0,206.0 C47.8,200.7 49.7,202.7 51.0,199.0 C52.3,195.3 50.9,196.0 52.0,192.0 Z" fill="#f40e0e" stroke="#8a0808" stroke-width="1.8"/>
<path d="M54,201 C56,210 58,216 61,214 C64,210 66,212 69,218 C71,226 76,229 82,228 C85,222 84,210 81,194 M49,236 C56,232 62,230 66,236 C68,240 74,241 84,240 M56,241 C60,250 63,254 68,250 C72,246 78,246 86,243 M56,256 C62,262 70,258 76,254 C79,258 82,262 84,262" fill="none" stroke="#b00000" stroke-width="1.5" opacity="0.8"/>
<path d="M55,188 C52,196 56,204 53,214 C50,222 60,222 66,210 C70,200 74,196 78,196 C80,202 76,214 80,222 C84,226 88,218 88,206 C88,196 86,190 84,188 M52,236 C50,228 58,226 66,232 C72,236 78,228 84,228 C90,232 90,240 84,244 C78,248 70,242 64,246 C56,252 50,250 50,256 C50,266 60,268 66,262 C72,256 80,262 84,266 C88,270 92,264 90,256" fill="none" stroke="#8a0808" stroke-width="1.2" opacity="0.55"/>
<ellipse cx="53" cy="211" rx="1.2" ry="2" fill="#fff" opacity="0.85"/>
<ellipse cx="71" cy="209" rx="1.2" ry="2" fill="#fff" opacity="0.85"/>
<ellipse cx="82" cy="196" rx="1.2" ry="2" fill="#fff" opacity="0.85"/>
<ellipse cx="77" cy="218" rx="1.2" ry="2" fill="#fff" opacity="0.85"/>
<ellipse cx="55" cy="237" rx="1.2" ry="2" fill="#fff" opacity="0.85"/>
<ellipse cx="80" cy="254" rx="1.2" ry="2" fill="#fff" opacity="0.85"/>
<ellipse cx="58" cy="260" rx="1.2" ry="2" fill="#fff" opacity="0.85"/>
<ellipse cx="88" cy="226" rx="1.2" ry="2" fill="#fff" opacity="0.85"/>
<ellipse cx="66" cy="232" rx="1.2" ry="2" fill="#fff" opacity="0.85"/>
<ellipse cx="84" cy="242" rx="1.2" ry="2" fill="#fff" opacity="0.85"/>
</g>
<line x1="68.0" y1="237.5" x2="236.3" y2="237.5" stroke="#111" stroke-width="3.0"/>
<polygon points="243.3,237.5 234.3,245.0 234.3,230.0" fill="#111"/>
<line x1="69.0" y1="636.4" x2="236.3" y2="636.4" stroke="#111" stroke-width="3.0"/>
<polygon points="243.3,636.4 234.3,643.9 234.3,628.9" fill="#111"/>
<path d="M581,561 C590,557 598,560 606,568 C614,577 622,582 634,581 C646,579 652,571 662,569 C667,568 671,569 674,572" fill="none" stroke="#1e1e1e" stroke-width="4.6" stroke-linecap="round"/>
<path d="M581,561 C590,557 598,560 606,568 C614,577 622,582 634,581 C646,579 652,571 662,569 C667,568 671,569 674,572" fill="none" stroke="#e6d8cc" stroke-width="2.2" stroke-linecap="round"/>
<path d="M469.5,581 C473,570 477,562 479,553 C481,545 482,538 482,531 C483,522 485,512 487,504.5 C489,510 490,515 491,518 C495,512 498,506 503,500 C509,493 513,487 519,483 C523,479 528,477 534,477 C558,476 578,505 582,540 C583,550 583,562 583,574 C580,577 578,578 576,579 C571,580 566,581 562,582 C559,583 557,584 554,585 C547,586 541,587 535,587 C533,585 531,583 530,582 C528,581 526,581 525,580 C522,583 520,586 517,587 C512,588 507,588 503,588 C501,586 499,583 498,582 C492,583 485,584 479,584 C476,584 473,583 469.5,581 Z" fill="#f6f6f6" stroke="#1e1e1e" stroke-width="1.7" stroke-linejoin="round"/>
<path d="M543.6,518 C540,521 537,525 536,527 C533,533 531,538 531.5,545 C531,552 530,560 531,568 C531,573 532,577 533,581" fill="none" stroke="#1e1e1e" stroke-width="1.4"/>
<path d="M507.6,559.6 C507,564 506,569 504.4,572.4 C503,574 501,575 499.6,575.6" fill="none" stroke="#1e1e1e" stroke-width="1.2"/>
<path d="M503,585 C508,586 514,586 518,585 M535,586 C541,586 548,586 555,585" fill="none" stroke="#333" stroke-width="2.6"/>
<path d="M530,580 C540,582 560,580 580,576 M498,582 C505,583 515,582 525,580" fill="none" stroke="#bbb" stroke-width="1" opacity="0.6"/>
<ellipse cx="503" cy="535" rx="5.3" ry="12.5" fill="#e4e4e4" stroke="#1e1e1e" stroke-width="1.6" transform="rotate(10 503 535)"/>
<ellipse cx="486.5" cy="558.5" rx="2.4" ry="3.1" fill="#111"/>
<path d="M471,566 L458,547 M472,566 L456,553 M472,568 L455,560 M476,585 L478,612 M477,585 L482,610 M478,585 L486,606" fill="none" stroke="#777" stroke-width="0.8"/>
<line x1="342.3" y1="312" x2="342.3" y2="571" stroke="#3a3a3a" stroke-width="2.4"/>
<polygon points="342.3,299 337.5,315 347.1,315" fill="#111"/>
<polygon points="342.3,584 337.5,568 347.1,568" fill="#111"/>
<line x1="466.0" y1="242.0" x2="494.9" y2="281.3" stroke="#363636" stroke-width="3.0"/>
<polygon points="502.0,291.0 489.7,282.7 497.7,276.8" fill="#111"/>
<line x1="421.8" y1="639.0" x2="543.9" y2="522.7" stroke="#363636" stroke-width="3.0"/>
<polygon points="554.0,513.0 546.6,528.4 538.3,519.7" fill="#111"/>
<line x1="520.0" y1="383.6" x2="549.4" y2="494.5" stroke="#363636" stroke-width="2.4"/>
<polygon points="553.0,508.0 544.1,493.8 553.7,491.3" fill="#111"/>
<line x1="556.5" y1="505.0" x2="705.8" y2="16.5" stroke="#363636" stroke-width="2.4"/>
<polygon points="709.0,6.0 709.5,19.7 700.9,17.1" fill="#111"/>
<line x1="558.0" y1="511.0" x2="703.5" y2="984.5" stroke="#363636" stroke-width="2.4"/>
<polygon points="707.0,996.0 698.6,983.9 707.2,981.3" fill="#111"/>
<line x1="1080.0" y1="215.0" x2="1244.5" y2="431.8" stroke="#363636" stroke-width="2.8"/>
<polygon points="1253.0,443.0 1238.9,433.6 1247.7,426.9" fill="#111"/>
<line x1="1190.0" y1="769.0" x2="1251.8" y2="460.7" stroke="#363636" stroke-width="2.6"/>
<polygon points="1254.5,447.0 1256.8,463.8 1246.0,461.6" fill="#111"/>
<clipPath id="vclip"><rect x="1261" y="0" width="224" height="1000"/></clipPath>
<g clip-path="url(#vclip)">
<polyline points="1261.0,716.0 1261.0,690.0 1263.0,650.0 1267.0,610.0 1270.0,575.0 1273.0,528.0 1275.5,487.0 1278.5,448.0 1281.0,412.0 1283.0,374.0 1285.5,343.0 1289.7,307.8 1293.0,270.4 1298.5,233.0 1304.0,200.0 1312.0,164.0 1324.0,134.0 1336.0,115.0 1349.0,104.0 1362.0,101.0 1375.0,104.0 1388.0,113.0 1399.0,127.0 1408.0,147.0 1414.0,170.0 1420.0,206.0 1426.0,236.0 1429.6,270.0 1432.0,307.0 1434.4,339.6 1436.8,374.4 1440.0,408.0 1441.6,446.0 1443.0,477.0 1445.8,513.0 1447.2,545.6 1450.0,578.0 1455.6,615.6 1461.0,649.0 1469.0,675.0 1478.0,688.0 1485.0,690.0" fill="none" stroke="#fbeae3" stroke-width="28" stroke-linejoin="round" stroke-linecap="round"/>
<polyline points="1261.0,716.0 1261.0,690.0 1263.0,650.0 1267.0,610.0 1270.0,575.0 1273.0,528.0 1275.5,487.0 1278.5,448.0 1281.0,412.0 1283.0,374.0 1285.5,343.0 1289.7,307.8 1293.0,270.4 1298.5,233.0 1304.0,200.0 1312.0,164.0 1324.0,134.0 1336.0,115.0 1349.0,104.0 1362.0,101.0 1375.0,104.0 1388.0,113.0 1399.0,127.0 1408.0,147.0 1414.0,170.0 1420.0,206.0 1426.0,236.0 1429.6,270.0 1432.0,307.0 1434.4,339.6 1436.8,374.4 1440.0,408.0 1441.6,446.0 1443.0,477.0 1445.8,513.0 1447.2,545.6 1450.0,578.0 1455.6,615.6 1461.0,649.0 1469.0,675.0 1478.0,688.0 1485.0,690.0" fill="none" stroke="#f7dccf" stroke-width="19" stroke-linejoin="round" stroke-linecap="round"/>
<polyline points="1261.0,716.0 1261.0,690.0 1263.0,650.0 1267.0,610.0 1270.0,575.0 1273.0,528.0 1275.5,487.0 1278.5,448.0 1281.0,412.0 1283.0,374.0 1285.5,343.0 1289.7,307.8 1293.0,270.4 1298.5,233.0 1304.0,200.0 1312.0,164.0 1324.0,134.0 1336.0,115.0 1349.0,104.0 1362.0,101.0 1375.0,104.0 1388.0,113.0 1399.0,127.0 1408.0,147.0 1414.0,170.0 1420.0,206.0 1426.0,236.0 1429.6,270.0 1432.0,307.0 1434.4,339.6 1436.8,374.4 1440.0,408.0 1441.6,446.0 1443.0,477.0 1445.8,513.0 1447.2,545.6 1450.0,578.0 1455.6,615.6 1461.0,649.0 1469.0,675.0 1478.0,688.0 1485.0,690.0" fill="none" stroke="#fdf6f3" stroke-width="13" stroke-linejoin="round"/>
<polyline points="1261.0,782.0 1271.0,771.0 1287.0,753.0 1296.0,734.0 1303.0,706.0 1305.5,682.0 1310.0,631.0 1313.0,583.0 1314.6,539.6 1316.0,497.6 1317.6,460.0 1320.5,425.5 1322.7,393.6 1324.9,363.9 1327.1,332.0 1329.3,302.3 1332.6,278.1 1335.0,250.0 1339.0,230.0 1346.0,214.0 1353.0,203.0 1361.6,199.5 1370.0,201.0 1376.0,207.0 1379.0,220.0 1382.8,237.6 1385.2,264.0 1388.8,289.2 1391.2,318.0 1393.6,348.0 1394.8,379.2 1396.8,414.0 1398.2,447.6 1399.6,479.8 1401.0,519.0 1402.4,554.0 1406.0,590.0 1412.0,632.0 1417.0,672.0 1424.0,705.0 1431.0,731.0 1442.0,760.0 1458.0,780.0 1474.0,787.0 1485.0,792.0" fill="none" stroke="#d4cce6" stroke-width="6" stroke-linejoin="round"/>
<polygon points="1261.0,716.0 1261.0,690.0 1263.0,650.0 1267.0,610.0 1270.0,575.0 1273.0,528.0 1275.5,487.0 1278.5,448.0 1281.0,412.0 1283.0,374.0 1285.5,343.0 1289.7,307.8 1293.0,270.4 1298.5,233.0 1304.0,200.0 1312.0,164.0 1324.0,134.0 1336.0,115.0 1349.0,104.0 1362.0,101.0 1375.0,104.0 1388.0,113.0 1399.0,127.0 1408.0,147.0 1414.0,170.0 1420.0,206.0 1426.0,236.0 1429.6,270.0 1432.0,307.0 1434.4,339.6 1436.8,374.4 1440.0,408.0 1441.6,446.0 1443.0,477.0 1445.8,513.0 1447.2,545.6 1450.0,578.0 1455.6,615.6 1461.0,649.0 1469.0,675.0 1478.0,688.0 1485.0,690.0 1485.0,792.0 1474.0,787.0 1458.0,780.0 1442.0,760.0 1431.0,731.0 1424.0,705.0 1417.0,672.0 1412.0,632.0 1406.0,590.0 1402.4,554.0 1401.0,519.0 1399.6,479.8 1398.2,447.6 1396.8,414.0 1394.8,379.2 1393.6,348.0 1391.2,318.0 1388.8,289.2 1385.2,264.0 1382.8,237.6 1379.0,220.0 1376.0,207.0 1370.0,201.0 1361.6,199.5 1353.0,203.0 1346.0,214.0 1339.0,230.0 1335.0,250.0 1332.6,278.1 1329.3,302.3 1327.1,332.0 1324.9,363.9 1322.7,393.6 1320.5,425.5 1317.6,460.0 1316.0,497.6 1314.6,539.6 1313.0,583.0 1310.0,631.0 1305.5,682.0 1303.0,706.0 1296.0,734.0 1287.0,753.0 1271.0,771.0 1261.0,782.0" fill="#f3bea6"/>
<polygon points="1261.9,714.8 1263.5,681.7 1288.9,734.6 1270.3,758.4" fill="#fffaf7" stroke="#fbe3d8" stroke-width="2" stroke-linejoin="round"/>
<polygon points="1264.3,678.6 1264.9,649.2 1300.7,682.8 1290.8,726.9" fill="#fffaf7" stroke="#fbe3d8" stroke-width="2" stroke-linejoin="round"/>
<polygon points="1269.8,603.4 1272.6,571.9 1308.5,585.8 1306.1,624.2" fill="#fffaf7" stroke="#fbe3d8" stroke-width="2" stroke-linejoin="round"/>
<polygon points="1272.8,568.5 1275.0,529.8 1310.3,542.7 1309.0,577.4" fill="#fffaf7" stroke="#fbe3d8" stroke-width="2" stroke-linejoin="round"/>
<polygon points="1275.1,526.4 1277.0,489.1 1311.8,500.7 1310.7,534.3" fill="#fffaf7" stroke="#fbe3d8" stroke-width="2" stroke-linejoin="round"/>
<polygon points="1277.2,485.9 1280.0,450.0 1313.5,462.6 1312.2,492.7" fill="#fffaf7" stroke="#fbe3d8" stroke-width="2" stroke-linejoin="round"/>
<polygon points="1280.2,447.1 1282.9,413.9 1316.3,427.7 1314.0,455.3" fill="#fffaf7" stroke="#fbe3d8" stroke-width="2" stroke-linejoin="round"/>
<polygon points="1283.1,411.1 1283.6,376.0 1318.5,395.1 1316.7,420.6" fill="#fffaf7" stroke="#fbe3d8" stroke-width="2" stroke-linejoin="round"/>
<polygon points="1286.0,342.5 1291.0,310.1 1323.0,332.9 1321.2,358.5" fill="#fffaf7" stroke="#fbe3d8" stroke-width="2" stroke-linejoin="round"/>
<polygon points="1291.3,307.4 1294.3,273.0 1325.4,302.5 1323.6,326.2" fill="#fffaf7" stroke="#fbe3d8" stroke-width="2" stroke-linejoin="round"/>
<polygon points="1294.6,270.4 1299.7,236.0 1328.8,276.7 1326.1,296.0" fill="#fffaf7" stroke="#fbe3d8" stroke-width="2" stroke-linejoin="round"/>
<polygon points="1300.0,233.6 1304.0,207.3 1331.3,245.0 1329.5,270.6" fill="#fffaf7" stroke="#fbe3d8" stroke-width="2" stroke-linejoin="round"/>
<polygon points="1304.4,205.0 1311.9,169.7 1334.7,228.9 1332.2,239.4" fill="#fffaf7" stroke="#fbe3d8" stroke-width="2" stroke-linejoin="round"/>
<polygon points="1325.2,136.8 1335.5,122.1 1348.1,198.6 1344.6,208.2" fill="#fffaf7" stroke="#fbe3d8" stroke-width="2" stroke-linejoin="round"/>
<polygon points="1336.2,121.1 1348.7,108.6 1354.3,191.4 1349.8,196.2" fill="#fffaf7" stroke="#fbe3d8" stroke-width="2" stroke-linejoin="round"/>
<polygon points="1349.5,108.1 1365.0,105.9 1361.2,188.6 1356.4,190.2" fill="#fffaf7" stroke="#fbe3d8" stroke-width="2" stroke-linejoin="round"/>
<polygon points="1365.9,106.0 1381.4,111.5 1368.3,189.6 1363.5,188.8" fill="#fffaf7" stroke="#fbe3d8" stroke-width="2" stroke-linejoin="round"/>
<polygon points="1382.2,112.0 1395.6,126.8 1374.4,194.1 1370.4,190.9" fill="#fffaf7" stroke="#fbe3d8" stroke-width="2" stroke-linejoin="round"/>
<polygon points="1396.4,128.2 1410.2,170.5 1379.5,200.8 1376.3,197.6" fill="#fffaf7" stroke="#fbe3d8" stroke-width="2" stroke-linejoin="round"/>
<polygon points="1410.9,172.8 1418.2,206.3 1385.8,231.1 1381.2,206.7" fill="#fffaf7" stroke="#fbe3d8" stroke-width="2" stroke-linejoin="round"/>
<polygon points="1418.7,208.8 1424.2,236.4 1388.9,258.4 1386.9,237.3" fill="#fffaf7" stroke="#fbe3d8" stroke-width="2" stroke-linejoin="round"/>
<polygon points="1428.1,272.1 1430.3,306.3 1395.0,313.6 1393.1,290.6" fill="#fffaf7" stroke="#fbe3d8" stroke-width="2" stroke-linejoin="round"/>
<polygon points="1430.5,308.9 1432.7,338.7 1397.4,344.0 1395.5,320.0" fill="#fffaf7" stroke="#fbe3d8" stroke-width="2" stroke-linejoin="round"/>
<polygon points="1432.8,341.3 1435.0,373.3 1398.8,375.4 1397.9,350.5" fill="#fffaf7" stroke="#fbe3d8" stroke-width="2" stroke-linejoin="round"/>
<polygon points="1435.2,376.0 1438.4,407.2 1400.9,410.0 1399.3,382.2" fill="#fffaf7" stroke="#fbe3d8" stroke-width="2" stroke-linejoin="round"/>
<polygon points="1438.5,410.1 1439.8,444.8 1402.4,443.9 1401.3,417.0" fill="#fffaf7" stroke="#fbe3d8" stroke-width="2" stroke-linejoin="round"/>
<polygon points="1439.9,447.5 1441.2,475.9 1403.8,476.4 1402.7,450.6" fill="#fffaf7" stroke="#fbe3d8" stroke-width="2" stroke-linejoin="round"/>
<polygon points="1441.3,478.6 1443.9,512.1 1405.3,514.7 1404.1,483.3" fill="#fffaf7" stroke="#fbe3d8" stroke-width="2" stroke-linejoin="round"/>
<polygon points="1445.6,547.4 1448.2,577.0 1411.8,588.1 1407.3,556.7" fill="#fffaf7" stroke="#fbe3d8" stroke-width="2" stroke-linejoin="round"/>
<polygon points="1448.5,580.0 1453.7,614.7 1416.0,626.9 1412.7,595.5" fill="#fffaf7" stroke="#fbe3d8" stroke-width="2" stroke-linejoin="round"/>
<polygon points="1454.1,617.8 1458.1,648.5 1421.7,666.9 1417.0,634.4" fill="#fffaf7" stroke="#fbe3d8" stroke-width="2" stroke-linejoin="round"/>
<polygon points="1458.7,651.4 1462.4,670.7 1434.6,715.5 1423.1,674.2" fill="#fffaf7" stroke="#fbe3d8" stroke-width="2" stroke-linejoin="round"/>
<polygon points="1471.7,693.9 1479.1,698.8 1473.5,773.9 1454.1,758.1" fill="#fffaf7" stroke="#fbe3d8" stroke-width="2" stroke-linejoin="round"/>
<line x1="1261.0" y1="714.0" x2="1270.0" y2="767.0" stroke="#f2bda5" stroke-width="5.5"/>
<line x1="1261.0" y1="714.0" x2="1270.0" y2="767.0" stroke="#86503c" stroke-width="2.2"/>
<line x1="1262.8" y1="678.0" x2="1293.2" y2="737.2" stroke="#f2bda5" stroke-width="5.5"/>
<line x1="1262.8" y1="678.0" x2="1293.2" y2="737.2" stroke="#86503c" stroke-width="2.2"/>
<line x1="1271.0" y1="569.7" x2="1313.0" y2="583.0" stroke="#f2bda5" stroke-width="5.5"/>
<line x1="1271.0" y1="569.7" x2="1313.0" y2="583.0" stroke="#86503c" stroke-width="2.2"/>
<line x1="1273.4" y1="527.6" x2="1314.6" y2="539.6" stroke="#f2bda5" stroke-width="5.5"/>
<line x1="1273.4" y1="527.6" x2="1314.6" y2="539.6" stroke="#86503c" stroke-width="2.2"/>
<line x1="1275.5" y1="487.0" x2="1316.0" y2="497.6" stroke="#f2bda5" stroke-width="5.5"/>
<line x1="1275.5" y1="487.0" x2="1316.0" y2="497.6" stroke="#86503c" stroke-width="2.2"/>
<line x1="1278.5" y1="448.0" x2="1317.6" y2="460.0" stroke="#f2bda5" stroke-width="5.5"/>
<line x1="1278.5" y1="448.0" x2="1317.6" y2="460.0" stroke="#86503c" stroke-width="2.2"/>
<line x1="1281.5" y1="412.0" x2="1320.5" y2="425.5" stroke="#f2bda5" stroke-width="5.5"/>
<line x1="1281.5" y1="412.0" x2="1320.5" y2="425.5" stroke="#86503c" stroke-width="2.2"/>
<line x1="1289.7" y1="307.8" x2="1327.1" y2="332.0" stroke="#f2bda5" stroke-width="5.5"/>
<line x1="1289.7" y1="307.8" x2="1327.1" y2="332.0" stroke="#86503c" stroke-width="2.2"/>
<line x1="1293.0" y1="270.4" x2="1329.3" y2="302.3" stroke="#f2bda5" stroke-width="5.5"/>
<line x1="1293.0" y1="270.4" x2="1329.3" y2="302.3" stroke="#86503c" stroke-width="2.2"/>
<line x1="1298.5" y1="233.0" x2="1332.6" y2="278.1" stroke="#f2bda5" stroke-width="5.5"/>
<line x1="1298.5" y1="233.0" x2="1332.6" y2="278.1" stroke="#86503c" stroke-width="2.2"/>
<line x1="1302.9" y1="204.4" x2="1334.8" y2="246.2" stroke="#f2bda5" stroke-width="5.5"/>
<line x1="1302.9" y1="204.4" x2="1334.8" y2="246.2" stroke="#86503c" stroke-width="2.2"/>
<line x1="1335.2" y1="118.0" x2="1350.4" y2="206.0" stroke="#f2bda5" stroke-width="5.5"/>
<line x1="1335.2" y1="118.0" x2="1350.4" y2="206.0" stroke="#86503c" stroke-width="2.2"/>
<line x1="1348.8" y1="104.4" x2="1356.0" y2="200.0" stroke="#f2bda5" stroke-width="5.5"/>
<line x1="1348.8" y1="104.4" x2="1356.0" y2="200.0" stroke="#86503c" stroke-width="2.2"/>
<line x1="1365.6" y1="102.0" x2="1362.0" y2="198.0" stroke="#f2bda5" stroke-width="5.5"/>
<line x1="1365.6" y1="102.0" x2="1362.0" y2="198.0" stroke="#86503c" stroke-width="2.2"/>
<line x1="1382.4" y1="108.0" x2="1368.0" y2="199.0" stroke="#f2bda5" stroke-width="5.5"/>
<line x1="1382.4" y1="108.0" x2="1368.0" y2="199.0" stroke="#86503c" stroke-width="2.2"/>
<line x1="1397.0" y1="124.0" x2="1373.0" y2="203.0" stroke="#f2bda5" stroke-width="5.5"/>
<line x1="1397.0" y1="124.0" x2="1373.0" y2="203.0" stroke="#86503c" stroke-width="2.2"/>
<line x1="1412.0" y1="170.0" x2="1377.0" y2="207.0" stroke="#f2bda5" stroke-width="5.5"/>
<line x1="1412.0" y1="170.0" x2="1377.0" y2="207.0" stroke="#86503c" stroke-width="2.2"/>
<line x1="1420.0" y1="206.4" x2="1382.8" y2="237.6" stroke="#f2bda5" stroke-width="5.5"/>
<line x1="1420.0" y1="206.4" x2="1382.8" y2="237.6" stroke="#86503c" stroke-width="2.2"/>
<line x1="1432.0" y1="307.2" x2="1391.2" y2="318.0" stroke="#f2bda5" stroke-width="5.5"/>
<line x1="1432.0" y1="307.2" x2="1391.2" y2="318.0" stroke="#86503c" stroke-width="2.2"/>
<line x1="1434.4" y1="339.6" x2="1393.6" y2="348.0" stroke="#f2bda5" stroke-width="5.5"/>
<line x1="1434.4" y1="339.6" x2="1393.6" y2="348.0" stroke="#86503c" stroke-width="2.2"/>
<line x1="1436.8" y1="374.4" x2="1394.8" y2="379.2" stroke="#f2bda5" stroke-width="5.5"/>
<line x1="1436.8" y1="374.4" x2="1394.8" y2="379.2" stroke="#86503c" stroke-width="2.2"/>
<line x1="1440.2" y1="408.4" x2="1396.8" y2="414.0" stroke="#f2bda5" stroke-width="5.5"/>
<line x1="1440.2" y1="408.4" x2="1396.8" y2="414.0" stroke="#86503c" stroke-width="2.2"/>
<line x1="1441.6" y1="446.2" x2="1398.2" y2="447.6" stroke="#f2bda5" stroke-width="5.5"/>
<line x1="1441.6" y1="446.2" x2="1398.2" y2="447.6" stroke="#86503c" stroke-width="2.2"/>
<line x1="1443.0" y1="477.0" x2="1399.6" y2="479.8" stroke="#f2bda5" stroke-width="5.5"/>
<line x1="1443.0" y1="477.0" x2="1399.6" y2="479.8" stroke="#86503c" stroke-width="2.2"/>
<line x1="1450.0" y1="577.8" x2="1408.0" y2="593.2" stroke="#f2bda5" stroke-width="5.5"/>
<line x1="1450.0" y1="577.8" x2="1408.0" y2="593.2" stroke="#86503c" stroke-width="2.2"/>
<line x1="1455.6" y1="615.6" x2="1412.2" y2="632.4" stroke="#f2bda5" stroke-width="5.5"/>
<line x1="1455.6" y1="615.6" x2="1412.2" y2="632.4" stroke="#86503c" stroke-width="2.2"/>
<line x1="1460.0" y1="649.0" x2="1418.0" y2="673.0" stroke="#f2bda5" stroke-width="5.5"/>
<line x1="1460.0" y1="649.0" x2="1418.0" y2="673.0" stroke="#86503c" stroke-width="2.2"/>
<line x1="1480.0" y1="695.8" x2="1474.6" y2="784.0" stroke="#f2bda5" stroke-width="5.5"/>
<line x1="1480.0" y1="695.8" x2="1474.6" y2="784.0" stroke="#86503c" stroke-width="2.2"/>
<ellipse cx="1278.1" cy="742.0" rx="4" ry="7.2" fill="#a8d6a0" stroke="#35603a" stroke-width="1.6" transform="rotate(-2.9 1278.1 742.0)"/>
<ellipse cx="1292.8" cy="701.0" rx="4" ry="7.2" fill="#a8d6a0" stroke="#35603a" stroke-width="1.6" transform="rotate(-5.6 1292.8 701.0)"/>
<polygon points="1263.5,646.0 1268.0,604.0 1310.0,631.0 1305.5,682.0" fill="#cdeefa" stroke="#0f4660" stroke-width="4.4" stroke-linejoin="round"/>
<polygon points="1263.5,646.0 1268.0,604.0 1310.0,631.0 1305.5,682.0" fill="none" stroke="#2fb4e6" stroke-width="2.4" stroke-linejoin="round"/>
<ellipse cx="1277" cy="631" rx="17" ry="9.5" fill="#1faae6" stroke="#0f4660" stroke-width="1.6" transform="rotate(86 1277 631)"/>
<ellipse cx="1277" cy="631" rx="6.8" ry="3.3" fill="#a0e0fa" opacity="0.75" transform="rotate(86 1277 631) translate(-5.9,-2.9)"/>
<ellipse cx="1300.4" cy="652.0" rx="3.6" ry="6" fill="#b44c86" stroke="#3e1e38" stroke-width="1.3"/>
<ellipse cx="1299.6" cy="650.5" rx="1.2" ry="2" fill="#f0b8d8" opacity="0.7"/>
<ellipse cx="1303.9" cy="603.4" rx="4" ry="7.2" fill="#a8d6a0" stroke="#35603a" stroke-width="1.6" transform="rotate(0.0 1303.9 603.4)"/>
<ellipse cx="1306.3" cy="559.0" rx="4" ry="7.2" fill="#a8d6a0" stroke="#35603a" stroke-width="1.6" transform="rotate(0.0 1306.3 559.0)"/>
<ellipse cx="1307.9" cy="516.6" rx="4" ry="7.2" fill="#a8d6a0" stroke="#35603a" stroke-width="1.6" transform="rotate(0.0 1307.9 516.6)"/>
<ellipse cx="1309.6" cy="476.8" rx="4" ry="7.2" fill="#a8d6a0" stroke="#35603a" stroke-width="1.6" transform="rotate(0.0 1309.6 476.8)"/>
<ellipse cx="1312.0" cy="440.5" rx="4" ry="7.2" fill="#a8d6a0" stroke="#35603a" stroke-width="1.6" transform="rotate(0.0 1312.0 440.5)"/>
<ellipse cx="1314.4" cy="406.6" rx="4" ry="7.2" fill="#a8d6a0" stroke="#35603a" stroke-width="1.6" transform="rotate(0.0 1314.4 406.6)"/>
<polygon points="1282.0,373.8 1284.2,343.0 1324.9,363.9 1322.7,393.6" fill="#cdeefa" stroke="#0f4660" stroke-width="4.4" stroke-linejoin="round"/>
<polygon points="1282.0,373.8 1284.2,343.0 1324.9,363.9 1322.7,393.6" fill="none" stroke="#2fb4e6" stroke-width="2.4" stroke-linejoin="round"/>
<ellipse cx="1292" cy="366" rx="12.5" ry="9" fill="#1faae6" stroke="#0f4660" stroke-width="1.6" transform="rotate(80 1292 366)"/>
<ellipse cx="1292" cy="366" rx="5.0" ry="3.1" fill="#a0e0fa" opacity="0.75" transform="rotate(80 1292 366) translate(-4.4,-2.7)"/>
<ellipse cx="1313.9" cy="378.2" rx="3.6" ry="6" fill="#b44c86" stroke="#3e1e38" stroke-width="1.3"/>
<ellipse cx="1313.1" cy="376.7" rx="1.2" ry="2" fill="#f0b8d8" opacity="0.7"/>
<ellipse cx="1319.0" cy="343.9" rx="4" ry="7.2" fill="#a8d6a0" stroke="#35603a" stroke-width="1.6" transform="rotate(-9.0 1319.0 343.9)"/>
<ellipse cx="1321.6" cy="312.1" rx="4" ry="7.2" fill="#a8d6a0" stroke="#35603a" stroke-width="1.6" transform="rotate(-7.9 1321.6 312.1)"/>
<ellipse cx="1324.6" cy="283.3" rx="4" ry="7.2" fill="#a8d6a0" stroke="#35603a" stroke-width="1.6" transform="rotate(-6.4 1324.6 283.3)"/>
<ellipse cx="1327.8" cy="254.3" rx="4" ry="7.2" fill="#a8d6a0" stroke="#35603a" stroke-width="1.6" transform="rotate(-5.6 1327.8 254.3)"/>
<ellipse cx="1330.0" cy="228.0" rx="3.5" ry="6.2" fill="#a8d6a0" stroke="#35603a" stroke-width="1.6" transform="rotate(-4.3 1330.0 228.0)"/>
<polygon points="1311.0,166.0 1324.0,134.0 1346.0,218.0 1338.0,233.0" fill="#cdeefa" stroke="#0f4660" stroke-width="4.4" stroke-linejoin="round"/>
<polygon points="1311.0,166.0 1324.0,134.0 1346.0,218.0 1338.0,233.0" fill="none" stroke="#2fb4e6" stroke-width="2.4" stroke-linejoin="round"/>
<ellipse cx="1321" cy="161" rx="22" ry="7" fill="#1faae6" stroke="#0f4660" stroke-width="1.6" transform="rotate(72 1321 161)"/>
<ellipse cx="1321" cy="161" rx="8.8" ry="2.4" fill="#a0e0fa" opacity="0.75" transform="rotate(72 1321 161) translate(-7.7,-2.1)"/>
<ellipse cx="1335.2" cy="211.6" rx="3.6" ry="6" fill="#b44c86" stroke="#3e1e38" stroke-width="1.3"/>
<ellipse cx="1334.4" cy="210.1" rx="1.2" ry="2" fill="#f0b8d8" opacity="0.7"/>
<ellipse cx="1342.4" cy="192.4" rx="3.5" ry="6.2" fill="#a8d6a0" stroke="#35603a" stroke-width="1.6" transform="rotate(-1.8 1342.4 192.4)"/>
<ellipse cx="1350.4" cy="177.0" rx="3.5" ry="6.2" fill="#a8d6a0" stroke="#35603a" stroke-width="1.6" transform="rotate(-1.0 1350.4 177.0)"/>
<ellipse cx="1358.4" cy="174.0" rx="3.5" ry="6.2" fill="#a8d6a0" stroke="#35603a" stroke-width="1.6" transform="rotate(-0.2 1358.4 174.0)"/>
<ellipse cx="1368.8" cy="176.4" rx="3.5" ry="6.2" fill="#a8d6a0" stroke="#35603a" stroke-width="1.6" transform="rotate(0.8 1368.8 176.4)"/>
<ellipse cx="1376.0" cy="184.4" rx="3.5" ry="6.2" fill="#a8d6a0" stroke="#35603a" stroke-width="1.6" transform="rotate(1.9 1376.0 184.4)"/>
<ellipse cx="1384.0" cy="198.0" rx="3.5" ry="6.2" fill="#a8d6a0" stroke="#35603a" stroke-width="1.6" transform="rotate(4.0 1384.0 198.0)"/>
<ellipse cx="1389.0" cy="219.6" rx="3.5" ry="6.2" fill="#a8d6a0" stroke="#35603a" stroke-width="1.6" transform="rotate(7.0 1389.0 219.6)"/>
<ellipse cx="1391.0" cy="245.5" rx="4" ry="7.2" fill="#a8d6a0" stroke="#35603a" stroke-width="1.6" transform="rotate(7.9 1391.0 245.5)"/>
<polygon points="1426.0,236.4 1429.6,270.0 1388.8,289.2 1385.2,264.0" fill="#cdeefa" stroke="#0f4660" stroke-width="4.4" stroke-linejoin="round"/>
<polygon points="1426.0,236.4 1429.6,270.0 1388.8,289.2 1385.2,264.0" fill="none" stroke="#2fb4e6" stroke-width="2.4" stroke-linejoin="round"/>
<ellipse cx="1420.6" cy="258" rx="13" ry="9" fill="#1faae6" stroke="#0f4660" stroke-width="1.6" transform="rotate(95 1420.6 258)"/>
<ellipse cx="1420.6" cy="258" rx="5.2" ry="3.1" fill="#a0e0fa" opacity="0.75" transform="rotate(95 1420.6 258) translate(-4.5,-2.7)"/>
<ellipse cx="1392.4" cy="274.8" rx="3.6" ry="6" fill="#b44c86" stroke="#3e1e38" stroke-width="1.3"/>
<ellipse cx="1391.6" cy="273.3" rx="1.2" ry="2" fill="#f0b8d8" opacity="0.7"/>
<ellipse cx="1397.3" cy="300.9" rx="4" ry="7.2" fill="#a8d6a0" stroke="#35603a" stroke-width="1.6" transform="rotate(0.0 1397.3 300.9)"/>
<ellipse cx="1399.7" cy="331.3" rx="4" ry="7.2" fill="#a8d6a0" stroke="#35603a" stroke-width="1.6" transform="rotate(0.0 1399.7 331.3)"/>
<ellipse cx="1401.7" cy="362.4" rx="4" ry="7.2" fill="#a8d6a0" stroke="#35603a" stroke-width="1.6" transform="rotate(0.0 1401.7 362.4)"/>
<ellipse cx="1403.5" cy="395.7" rx="4" ry="7.2" fill="#a8d6a0" stroke="#35603a" stroke-width="1.6" transform="rotate(0.0 1403.5 395.7)"/>
<ellipse cx="1405.3" cy="430.2" rx="4" ry="7.2" fill="#a8d6a0" stroke="#35603a" stroke-width="1.6" transform="rotate(0.0 1405.3 430.2)"/>
<ellipse cx="1406.7" cy="463.3" rx="4" ry="7.2" fill="#a8d6a0" stroke="#35603a" stroke-width="1.6" transform="rotate(0.0 1406.7 463.3)"/>
<ellipse cx="1408.2" cy="498.6" rx="4" ry="7.2" fill="#a8d6a0" stroke="#35603a" stroke-width="1.6" transform="rotate(0.0 1408.2 498.6)"/>
<polygon points="1445.8,513.4 1447.2,545.6 1402.4,554.0 1401.0,519.0" fill="#cdeefa" stroke="#0f4660" stroke-width="4.4" stroke-linejoin="round"/>
<polygon points="1445.8,513.4 1447.2,545.6 1402.4,554.0 1401.0,519.0" fill="none" stroke="#2fb4e6" stroke-width="2.4" stroke-linejoin="round"/>
<ellipse cx="1438" cy="530" rx="15" ry="9" fill="#1faae6" stroke="#0f4660" stroke-width="1.6" transform="rotate(92 1438 530)"/>
<ellipse cx="1438" cy="530" rx="6.0" ry="3.1" fill="#a0e0fa" opacity="0.75" transform="rotate(92 1438 530) translate(-5.2,-2.7)"/>
<ellipse cx="1410.8" cy="534.4" rx="3.6" ry="6" fill="#b44c86" stroke="#3e1e38" stroke-width="1.3"/>
<ellipse cx="1410.0" cy="532.9" rx="1.2" ry="2" fill="#f0b8d8" opacity="0.7"/>
<ellipse cx="1413.0" cy="571.5" rx="4" ry="7.2" fill="#a8d6a0" stroke="#35603a" stroke-width="1.6" transform="rotate(0.0 1413.0 571.5)"/>
<ellipse cx="1417.8" cy="609.9" rx="4" ry="7.2" fill="#a8d6a0" stroke="#35603a" stroke-width="1.6" transform="rotate(0.0 1417.8 609.9)"/>
<ellipse cx="1422.8" cy="649.0" rx="4" ry="7.2" fill="#a8d6a0" stroke="#35603a" stroke-width="1.6" transform="rotate(0.0 1422.8 649.0)"/>
<ellipse cx="1431.8" cy="691.7" rx="4" ry="7.2" fill="#a8d6a0" stroke="#35603a" stroke-width="1.6" transform="rotate(6.5 1431.8 691.7)"/>
<polygon points="1464.0,670.0 1471.9,690.4 1450.3,764.2 1432.3,724.6" fill="#cdeefa" stroke="#0f4660" stroke-width="4.4" stroke-linejoin="round"/>
<polygon points="1464.0,670.0 1471.9,690.4 1450.3,764.2 1432.3,724.6" fill="none" stroke="#2fb4e6" stroke-width="2.4" stroke-linejoin="round"/>
<ellipse cx="1462.5" cy="693" rx="21" ry="8.5" fill="#1faae6" stroke="#0f4660" stroke-width="1.6" transform="rotate(108 1462.5 693)"/>
<ellipse cx="1462.5" cy="693" rx="8.4" ry="3.0" fill="#a0e0fa" opacity="0.75" transform="rotate(108 1462.5 693) translate(-7.3,-2.5)"/>
<ellipse cx="1445.8" cy="734.5" rx="3.6" ry="6" fill="#b44c86" stroke="#3e1e38" stroke-width="1.3"/>
<ellipse cx="1445.0" cy="733.0" rx="1.2" ry="2" fill="#f0b8d8" opacity="0.7"/>
<ellipse cx="1464.9" cy="759.5" rx="4" ry="7.2" fill="#a8d6a0" stroke="#35603a" stroke-width="1.6" transform="rotate(1.4 1464.9 759.5)"/>
<path d="M1261.0,716.0 L1256.4,716.0 M1261.0,709.2 L1256.4,709.2 M1261.0,702.4 L1256.4,702.4 M1261.0,695.6 L1256.4,695.6 M1261.1,688.8 L1256.5,688.6 M1261.4,682.0 L1256.8,681.8 M1261.7,675.2 L1257.1,675.0 M1262.1,668.4 L1257.5,668.2 M1262.4,661.6 L1257.8,661.4 M1262.8,654.8 L1258.2,654.6 M1263.2,648.1 L1258.6,647.6 M1263.9,641.3 L1259.3,640.8 M1264.5,634.5 L1260.0,634.1 M1265.2,627.8 L1260.6,627.3 M1265.9,621.0 L1261.3,620.5 M1266.6,614.2 L1262.0,613.8 M1267.2,607.5 L1262.6,607.1 M1267.8,600.7 L1263.2,600.3 M1268.4,593.9 L1263.8,593.5 M1269.0,587.1 L1264.4,586.7 M1269.5,580.4 L1265.0,580.0 M1270.1,573.6 L1265.5,573.3 M1270.5,566.8 L1265.9,566.5 M1271.0,560.0 L1266.4,559.7 M1271.4,553.2 L1266.8,552.9 M1271.8,546.4 L1267.2,546.1 M1272.3,539.6 L1267.7,539.4 M1272.7,532.9 L1268.1,532.6 M1273.1,526.1 L1268.5,525.8 M1273.5,519.3 L1268.9,519.0 M1273.9,512.5 L1269.4,512.2 M1274.4,505.7 L1269.8,505.4 M1274.8,498.9 L1270.2,498.6 M1275.2,492.1 L1270.6,491.9 M1275.6,485.4 L1271.0,485.0 M1276.1,478.6 L1271.6,478.2 M1276.7,471.8 L1272.1,471.4 M1277.2,465.0 L1272.6,464.7 M1277.7,458.2 L1273.1,457.9 M1278.2,451.5 L1273.6,451.1 M1278.7,444.7 L1274.1,444.4 M1279.2,437.9 L1274.6,437.6 M1279.7,431.1 L1275.1,430.8 M1280.1,424.3 L1275.6,424.0 M1280.6,417.5 L1276.0,417.2 M1281.1,410.8 L1276.5,410.5 M1281.4,404.0 L1276.8,403.7 M1281.8,397.2 L1277.2,396.9 M1282.1,390.4 L1277.5,390.1 M1282.5,383.6 L1277.9,383.3 M1282.9,376.8 L1278.3,376.6 M1283.3,370.0 L1278.7,369.6 M1283.9,363.2 L1279.3,362.9 M1284.4,356.5 L1279.8,356.1 M1285.0,349.7 L1280.4,349.3 M1285.5,342.9 L1280.9,342.4 M1286.3,336.2 L1281.7,335.6 M1287.1,329.4 L1282.6,328.9 M1287.9,322.6 L1283.4,322.1 M1288.7,315.9 L1284.2,315.4 M1289.5,309.1 L1285.0,308.6 M1290.2,302.4 L1285.6,302.0 M1290.8,295.6 L1286.2,295.2 M1291.4,288.8 L1286.8,288.4 M1292.0,282.1 L1287.4,281.7 M1292.6,275.3 L1288.0,274.9 M1293.3,268.5 L1288.7,267.9 M1294.3,261.8 L1289.7,261.1 M1295.3,255.1 L1290.7,254.4 M1296.2,248.3 L1291.7,247.7 M1297.2,241.6 L1292.7,240.9 M1298.2,234.9 L1293.7,234.2 M1299.3,228.2 L1294.8,227.4 M1300.4,221.5 L1295.9,220.7 M1301.5,214.8 L1297.0,214.0 M1302.7,208.0 L1298.1,207.3 M1303.8,201.3 L1299.2,200.6 M1305.2,194.7 L1300.7,193.7 M1306.7,188.0 L1302.2,187.1 M1308.1,181.4 L1303.6,180.4 M1309.6,174.8 L1305.1,173.8 M1311.1,168.1 L1306.6,167.1 M1313.0,161.6 L1308.7,159.9 M1315.5,155.3 L1311.2,153.6 M1318.0,149.0 L1313.7,147.3 M1320.5,142.7 L1316.3,141.0 M1323.1,136.4 L1318.8,134.7 M1326.3,130.4 L1322.4,127.9 M1329.9,124.7 L1326.0,122.2 M1333.5,118.9 L1329.6,116.4 M1337.7,113.6 L1334.7,110.1 M1342.9,109.2 L1339.9,105.7 M1348.0,104.8 L1345.1,101.3 M1354.4,102.8 L1353.4,98.3 M1361.0,101.2 L1360.0,96.7 M1367.7,102.3 L1368.7,97.8 M1374.3,103.8 L1375.3,99.4 M1380.0,107.5 L1382.6,103.7 M1385.6,111.3 L1388.2,107.5 M1390.4,116.0 L1394.0,113.2 M1394.6,121.4 L1398.2,118.5 M1398.8,126.7 L1402.4,123.9 M1401.6,132.9 L1405.8,131.0 M1404.4,139.1 L1408.6,137.2 M1407.2,145.3 L1411.4,143.4 M1409.2,151.8 L1413.7,150.6 M1411.0,158.3 L1415.4,157.2 M1412.7,164.9 L1417.1,163.8 M1414.3,171.5 L1418.8,170.8 M1415.4,178.2 L1419.9,177.5 M1416.5,184.9 L1421.0,184.2 M1417.6,191.7 L1422.1,190.9 M1418.7,198.4 L1423.3,197.6 M1419.8,205.1 L1424.4,204.3 M1421.1,211.7 L1425.7,210.8 M1422.5,218.4 L1427.0,217.5 M1423.8,225.1 L1428.3,224.2 M1425.1,231.7 L1429.7,230.8 M1426.3,238.4 L1430.8,238.0 M1427.0,245.2 L1431.5,244.7 M1427.7,252.0 L1432.3,251.5 M1428.4,258.7 L1433.0,258.2 M1429.1,265.5 L1433.7,265.0 M1429.7,272.3 L1434.3,272.0 M1430.2,279.1 L1434.8,278.8 M1430.6,285.8 L1435.2,285.5 M1431.1,292.6 L1435.7,292.3 M1431.5,299.4 L1436.1,299.1 M1431.9,306.2 L1436.5,305.9 M1432.4,313.0 L1437.0,312.6 M1432.9,319.8 L1437.5,319.4 M1433.4,326.5 L1438.0,326.2 M1433.9,333.3 L1438.5,333.0 M1434.4,340.1 L1439.0,339.8 M1434.9,346.9 L1439.5,346.6 M1435.4,353.7 L1440.0,353.4 M1435.8,360.5 L1440.4,360.1 M1436.3,367.2 L1440.9,366.9 M1436.8,374.0 L1441.4,373.7 M1437.4,380.8 L1442.0,380.4 M1438.1,387.6 L1442.6,387.1 M1438.7,394.3 L1443.3,393.9 M1439.3,401.1 L1443.9,400.7 M1440.0,407.9 L1444.6,407.4 M1440.3,414.7 L1444.9,414.5 M1440.6,421.5 L1445.2,421.3 M1440.9,428.3 L1445.4,428.1 M1441.1,435.0 L1445.7,434.9 M1441.4,441.8 L1446.0,441.6 M1441.7,448.6 L1446.3,448.4 M1442.0,455.4 L1446.6,455.2 M1442.3,462.2 L1446.9,462.0 M1442.6,469.0 L1447.2,468.8 M1442.9,475.8 L1447.5,475.6 M1443.4,482.6 L1448.0,482.2 M1444.0,489.4 L1448.5,489.0 M1444.5,496.1 L1449.1,495.8 M1445.0,502.9 L1449.6,502.6 M1445.5,509.7 L1450.1,509.3 M1445.9,516.5 L1450.5,516.3 M1446.2,523.3 L1450.8,523.1 M1446.5,530.1 L1451.1,529.9 M1446.8,536.9 L1451.4,536.7 M1447.1,543.7 L1451.7,543.5 M1447.6,550.4 L1452.2,550.1 M1448.2,557.2 L1452.8,556.8 M1448.8,564.0 L1453.4,563.6 M1449.4,570.8 L1454.0,570.4 M1450.0,577.5 L1454.5,577.2 M1450.9,584.3 L1455.5,583.6 M1451.9,591.0 L1456.5,590.3 M1452.9,597.7 L1457.5,597.0 M1453.9,604.5 L1458.5,603.8 M1454.9,611.2 L1459.5,610.5 M1456.0,617.9 L1460.5,617.2 M1457.1,624.6 L1461.6,623.9 M1458.1,631.3 L1462.7,630.6 M1459.2,638.0 L1463.8,637.3 M1460.3,644.8 L1464.9,644.0 M1461.7,651.4 L1466.1,650.0 M1463.7,657.9 L1468.1,656.5 M1465.7,664.4 L1470.1,663.0 M1467.7,670.9 L1472.1,669.5 M1470.4,677.1 L1474.2,674.4 M1474.3,682.6 L1478.1,680.0 M1478.3,688.1 L1479.5,683.7 M1484.8,689.9 L1486.1,685.5" stroke="#3a3030" stroke-width="1.9" stroke-linecap="round" fill="none"/>
<polyline points="1261.0,716.0 1261.0,690.0 1263.0,650.0 1267.0,610.0 1270.0,575.0 1273.0,528.0 1275.5,487.0 1278.5,448.0 1281.0,412.0 1283.0,374.0 1285.5,343.0 1289.7,307.8 1293.0,270.4 1298.5,233.0 1304.0,200.0 1312.0,164.0 1324.0,134.0 1336.0,115.0 1349.0,104.0 1362.0,101.0 1375.0,104.0 1388.0,113.0 1399.0,127.0 1408.0,147.0 1414.0,170.0 1420.0,206.0 1426.0,236.0 1429.6,270.0 1432.0,307.0 1434.4,339.6 1436.8,374.4 1440.0,408.0 1441.6,446.0 1443.0,477.0 1445.8,513.0 1447.2,545.6 1450.0,578.0 1455.6,615.6 1461.0,649.0 1469.0,675.0 1478.0,688.0 1485.0,690.0" fill="none" stroke="#4a3434" stroke-width="1.4" stroke-linejoin="round"/>
<polyline points="1261.0,782.0 1271.0,771.0 1287.0,753.0 1296.0,734.0 1303.0,706.0 1305.5,682.0 1310.0,631.0 1313.0,583.0 1314.6,539.6 1316.0,497.6 1317.6,460.0 1320.5,425.5 1322.7,393.6 1324.9,363.9 1327.1,332.0 1329.3,302.3 1332.6,278.1 1335.0,250.0 1339.0,230.0 1346.0,214.0 1353.0,203.0 1361.6,199.5 1370.0,201.0 1376.0,207.0 1379.0,220.0 1382.8,237.6 1385.2,264.0 1388.8,289.2 1391.2,318.0 1393.6,348.0 1394.8,379.2 1396.8,414.0 1398.2,447.6 1399.6,479.8 1401.0,519.0 1402.4,554.0 1406.0,590.0 1412.0,632.0 1417.0,672.0 1424.0,705.0 1431.0,731.0 1442.0,760.0 1458.0,780.0 1474.0,787.0 1485.0,792.0" fill="none" stroke="#7a6aa8" stroke-width="2" stroke-linejoin="round"/>
</g>
</svg></body></html>
